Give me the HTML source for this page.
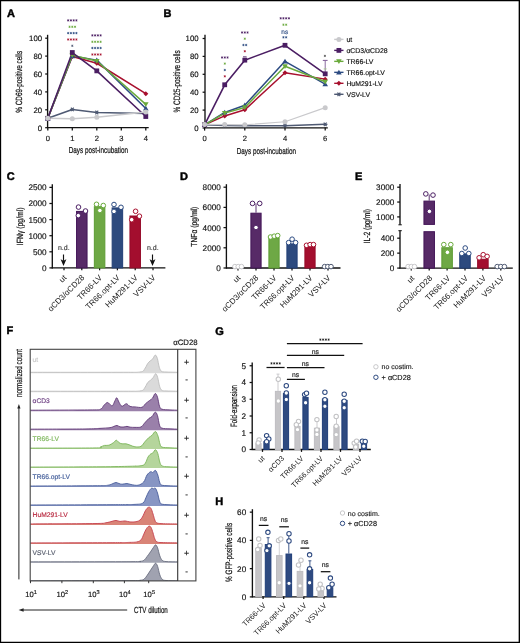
<!DOCTYPE html>
<html><head><meta charset="utf-8"><style>
html,body{margin:0;padding:0;background:#fff;width:520px;height:643px;overflow:hidden}
svg{display:block;will-change:transform}
text{font-family:"Liberation Sans",sans-serif;paint-order:stroke;text-rendering:geometricPrecision}
</style></head><body>
<svg width="520" height="643" viewBox="0 0 520 643">
<rect x="0" y="0" width="520" height="643" fill="#fff"/>
<path d="M0,0H520V643H0Z M1.15,1.15V641.85H518.65V1.15Z" fill="#000" fill-rule="evenodd"/>
<text x="7.00" y="16.50" font-size="11" font-weight="bold" fill="#000" stroke="#000" stroke-width="0.45">A</text>
<line x1="47.60" y1="34.80" x2="47.60" y2="128.10" stroke="#111" stroke-width="1.35"/>
<line x1="47.10" y1="127.60" x2="148.70" y2="127.60" stroke="#111" stroke-width="1.35"/>
<line x1="45.20" y1="127.70" x2="47.60" y2="127.70" stroke="#111" stroke-width="1.25"/>
<text x="42.10" y="130.50" font-size="7.8" text-anchor="end" fill="#111" stroke="#111" stroke-width="0.15" >0</text>
<line x1="45.20" y1="109.80" x2="47.60" y2="109.80" stroke="#111" stroke-width="1.25"/>
<text x="42.10" y="112.60" font-size="7.8" text-anchor="end" fill="#111" stroke="#111" stroke-width="0.15" >20</text>
<line x1="45.20" y1="91.90" x2="47.60" y2="91.90" stroke="#111" stroke-width="1.25"/>
<text x="42.10" y="94.70" font-size="7.8" text-anchor="end" fill="#111" stroke="#111" stroke-width="0.15" >40</text>
<line x1="45.20" y1="74.00" x2="47.60" y2="74.00" stroke="#111" stroke-width="1.25"/>
<text x="42.10" y="76.80" font-size="7.8" text-anchor="end" fill="#111" stroke="#111" stroke-width="0.15" >60</text>
<line x1="45.20" y1="56.10" x2="47.60" y2="56.10" stroke="#111" stroke-width="1.25"/>
<text x="42.10" y="58.90" font-size="7.8" text-anchor="end" fill="#111" stroke="#111" stroke-width="0.15" >80</text>
<line x1="45.20" y1="38.20" x2="47.60" y2="38.20" stroke="#111" stroke-width="1.25"/>
<text x="42.10" y="41.00" font-size="7.8" text-anchor="end" fill="#111" stroke="#111" stroke-width="0.15" >100</text>
<line x1="47.80" y1="127.60" x2="47.80" y2="130.60" stroke="#111" stroke-width="1.25"/>
<text x="47.80" y="140.70" font-size="7.6" text-anchor="middle" fill="#111" stroke="#111" stroke-width="0.15" >0</text>
<line x1="72.30" y1="127.60" x2="72.30" y2="130.60" stroke="#111" stroke-width="1.25"/>
<text x="72.30" y="140.70" font-size="7.6" text-anchor="middle" fill="#111" stroke="#111" stroke-width="0.15" >1</text>
<line x1="96.80" y1="127.60" x2="96.80" y2="130.60" stroke="#111" stroke-width="1.25"/>
<text x="96.80" y="140.70" font-size="7.6" text-anchor="middle" fill="#111" stroke="#111" stroke-width="0.15" >2</text>
<line x1="121.30" y1="127.60" x2="121.30" y2="130.60" stroke="#111" stroke-width="1.25"/>
<text x="121.30" y="140.70" font-size="7.6" text-anchor="middle" fill="#111" stroke="#111" stroke-width="0.15" >3</text>
<line x1="145.80" y1="127.60" x2="145.80" y2="130.60" stroke="#111" stroke-width="1.25"/>
<text x="145.80" y="140.70" font-size="7.6" text-anchor="middle" fill="#111" stroke="#111" stroke-width="0.15" >4</text>
<text x="0" y="0" font-size="9" text-anchor="middle" fill="#111" stroke="#111" stroke-width="0.22" textLength="61.9" lengthAdjust="spacingAndGlyphs" transform="translate(22.30,81.75) rotate(-90)">% CD69-positive cells</text>
<text x="98.40" y="153.10" font-size="8.7" text-anchor="middle" fill="#111" stroke="#111" stroke-width="0.22" textLength="59.4" lengthAdjust="spacingAndGlyphs">Days post-incubation</text>
<polyline points="47.80,118.30 72.30,109.44 96.80,112.48 145.80,113.38" fill="none" stroke="#4f5a73" stroke-width="1.5" stroke-linejoin="round"/>
<polyline points="47.80,118.30 72.30,56.55 96.80,63.26 145.80,93.69" fill="none" stroke="#a8102e" stroke-width="1.5" stroke-linejoin="round"/>
<polyline points="47.80,118.30 72.30,56.10 96.80,60.13 145.80,108.46" fill="none" stroke="#2c4b82" stroke-width="1.5" stroke-linejoin="round"/>
<polyline points="47.80,118.30 72.30,55.20 96.80,61.02 145.80,104.43" fill="none" stroke="#6aaa3c" stroke-width="1.5" stroke-linejoin="round"/>
<polyline points="47.80,118.30 72.30,52.52 96.80,70.87 145.80,116.51" fill="none" stroke="#4b1e63" stroke-width="1.6" stroke-linejoin="round"/>
<polyline points="47.80,118.30 72.30,118.75 96.80,117.23 145.80,112.04" fill="none" stroke="#c9c9cc" stroke-width="1.5" stroke-linejoin="round"/>
<g stroke="#4f5a73" stroke-width="1.1"><line x1="45.50" y1="118.30" x2="50.10" y2="118.30"/><line x1="46.42" y1="116.46" x2="49.18" y2="120.14"/><line x1="49.18" y1="116.46" x2="46.42" y2="120.14"/></g><circle cx="47.80" cy="118.30" r="1.3" fill="#4f5a73"/>
<g stroke="#4f5a73" stroke-width="1.1"><line x1="70.00" y1="109.44" x2="74.60" y2="109.44"/><line x1="70.92" y1="107.60" x2="73.68" y2="111.28"/><line x1="73.68" y1="107.60" x2="70.92" y2="111.28"/></g><circle cx="72.30" cy="109.44" r="1.3" fill="#4f5a73"/>
<g stroke="#4f5a73" stroke-width="1.1"><line x1="94.50" y1="112.48" x2="99.10" y2="112.48"/><line x1="95.42" y1="110.64" x2="98.18" y2="114.33"/><line x1="98.18" y1="110.64" x2="95.42" y2="114.33"/></g><circle cx="96.80" cy="112.48" r="1.3" fill="#4f5a73"/>
<g stroke="#4f5a73" stroke-width="1.1"><line x1="143.50" y1="113.38" x2="148.10" y2="113.38"/><line x1="144.42" y1="111.54" x2="147.18" y2="115.22"/><line x1="147.18" y1="111.54" x2="144.42" y2="115.22"/></g><circle cx="145.80" cy="113.38" r="1.3" fill="#4f5a73"/>
<path d="M47.80,115.80 L50.30,118.30 L47.80,120.80 L45.30,118.30 Z" fill="#a8102e"/>
<path d="M72.30,54.05 L74.80,56.55 L72.30,59.05 L69.80,56.55 Z" fill="#a8102e"/>
<path d="M96.80,60.76 L99.30,63.26 L96.80,65.76 L94.30,63.26 Z" fill="#a8102e"/>
<path d="M145.80,91.19 L148.30,93.69 L145.80,96.19 L143.30,93.69 Z" fill="#a8102e"/>
<path d="M45.00,120.40 L50.60,120.40 L47.80,115.64 Z" fill="#2c4b82"/>
<path d="M69.50,58.20 L75.10,58.20 L72.30,53.44 Z" fill="#2c4b82"/>
<path d="M94.00,62.23 L99.60,62.23 L96.80,57.47 Z" fill="#2c4b82"/>
<path d="M143.00,110.56 L148.60,110.56 L145.80,105.80 Z" fill="#2c4b82"/>
<path d="M45.00,116.20 L50.60,116.20 L47.80,120.96 Z" fill="#6aaa3c"/>
<path d="M69.50,53.10 L75.10,53.10 L72.30,57.86 Z" fill="#6aaa3c"/>
<path d="M94.00,58.92 L99.60,58.92 L96.80,63.68 Z" fill="#6aaa3c"/>
<path d="M143.00,102.33 L148.60,102.33 L145.80,107.09 Z" fill="#6aaa3c"/>
<rect x="45.40" y="115.90" width="4.80" height="4.80" fill="#4b1e63"/>
<rect x="69.90" y="50.12" width="4.80" height="4.80" fill="#4b1e63"/>
<rect x="94.40" y="68.47" width="4.80" height="4.80" fill="#4b1e63"/>
<rect x="143.40" y="114.11" width="4.80" height="4.80" fill="#4b1e63"/>
<circle cx="47.80" cy="118.30" r="2.50" fill="#c9c9cc"/>
<circle cx="72.30" cy="118.75" r="2.50" fill="#c9c9cc"/>
<circle cx="96.80" cy="117.23" r="2.50" fill="#c9c9cc"/>
<circle cx="145.80" cy="112.04" r="2.50" fill="#c9c9cc"/>
<circle cx="68.17" cy="20.40" r="0.55" fill="#4b1e63"/>
<circle cx="70.92" cy="20.40" r="0.55" fill="#4b1e63"/>
<circle cx="73.67" cy="20.40" r="0.55" fill="#4b1e63"/>
<circle cx="76.42" cy="20.40" r="0.55" fill="#4b1e63"/>
<path d="M68.17,19.60L68.17,21.20M67.48,20.00L68.87,20.80M68.87,20.00L67.48,20.80M70.92,19.60L70.92,21.20M70.23,20.00L71.62,20.80M71.62,20.00L70.23,20.80M73.67,19.60L73.67,21.20M72.98,20.00L74.37,20.80M74.37,20.00L72.98,20.80M76.42,19.60L76.42,21.20M75.73,20.00L77.12,20.80M77.12,20.00L75.73,20.80" stroke="#4b1e63" stroke-width="0.6" stroke-linecap="round" fill="none"/>
<circle cx="69.55" cy="26.80" r="0.55" fill="#6aaa3c"/>
<circle cx="72.30" cy="26.80" r="0.55" fill="#6aaa3c"/>
<circle cx="75.05" cy="26.80" r="0.55" fill="#6aaa3c"/>
<path d="M69.55,26.00L69.55,27.60M68.86,26.40L70.24,27.20M70.24,26.40L68.86,27.20M72.30,26.00L72.30,27.60M71.61,26.40L72.99,27.20M72.99,26.40L71.61,27.20M75.05,26.00L75.05,27.60M74.36,26.40L75.74,27.20M75.74,26.40L74.36,27.20" stroke="#6aaa3c" stroke-width="0.6" stroke-linecap="round" fill="none"/>
<circle cx="68.17" cy="33.10" r="0.55" fill="#2c4b82"/>
<circle cx="70.92" cy="33.10" r="0.55" fill="#2c4b82"/>
<circle cx="73.67" cy="33.10" r="0.55" fill="#2c4b82"/>
<circle cx="76.42" cy="33.10" r="0.55" fill="#2c4b82"/>
<path d="M68.17,32.30L68.17,33.90M67.48,32.70L68.87,33.50M68.87,32.70L67.48,33.50M70.92,32.30L70.92,33.90M70.23,32.70L71.62,33.50M71.62,32.70L70.23,33.50M73.67,32.30L73.67,33.90M72.98,32.70L74.37,33.50M74.37,32.70L72.98,33.50M76.42,32.30L76.42,33.90M75.73,32.70L77.12,33.50M77.12,32.70L75.73,33.50" stroke="#2c4b82" stroke-width="0.6" stroke-linecap="round" fill="none"/>
<circle cx="68.17" cy="39.50" r="0.55" fill="#a8102e"/>
<circle cx="70.92" cy="39.50" r="0.55" fill="#a8102e"/>
<circle cx="73.67" cy="39.50" r="0.55" fill="#a8102e"/>
<circle cx="76.42" cy="39.50" r="0.55" fill="#a8102e"/>
<path d="M68.17,38.70L68.17,40.30M67.48,39.10L68.87,39.90M68.87,39.10L67.48,39.90M70.92,38.70L70.92,40.30M70.23,39.10L71.62,39.90M71.62,39.10L70.23,39.90M73.67,38.70L73.67,40.30M72.98,39.10L74.37,39.90M74.37,39.10L72.98,39.90M76.42,38.70L76.42,40.30M75.73,39.10L77.12,39.90M77.12,39.10L75.73,39.90" stroke="#a8102e" stroke-width="0.6" stroke-linecap="round" fill="none"/>
<circle cx="72.30" cy="45.80" r="0.55" fill="#4f5a73"/>
<path d="M72.30,45.00L72.30,46.60M71.61,45.40L72.99,46.20M72.99,45.40L71.61,46.20" stroke="#4f5a73" stroke-width="0.6" stroke-linecap="round" fill="none"/>
<circle cx="92.38" cy="35.40" r="0.55" fill="#4b1e63"/>
<circle cx="95.12" cy="35.40" r="0.55" fill="#4b1e63"/>
<circle cx="97.88" cy="35.40" r="0.55" fill="#4b1e63"/>
<circle cx="100.62" cy="35.40" r="0.55" fill="#4b1e63"/>
<path d="M92.38,34.60L92.38,36.20M91.68,35.00L93.07,35.80M93.07,35.00L91.68,35.80M95.12,34.60L95.12,36.20M94.43,35.00L95.82,35.80M95.82,35.00L94.43,35.80M97.88,34.60L97.88,36.20M97.18,35.00L98.57,35.80M98.57,35.00L97.18,35.80M100.62,34.60L100.62,36.20M99.93,35.00L101.32,35.80M101.32,35.00L99.93,35.80" stroke="#4b1e63" stroke-width="0.6" stroke-linecap="round" fill="none"/>
<circle cx="92.38" cy="41.80" r="0.55" fill="#6aaa3c"/>
<circle cx="95.12" cy="41.80" r="0.55" fill="#6aaa3c"/>
<circle cx="97.88" cy="41.80" r="0.55" fill="#6aaa3c"/>
<circle cx="100.62" cy="41.80" r="0.55" fill="#6aaa3c"/>
<path d="M92.38,41.00L92.38,42.60M91.68,41.40L93.07,42.20M93.07,41.40L91.68,42.20M95.12,41.00L95.12,42.60M94.43,41.40L95.82,42.20M95.82,41.40L94.43,42.20M97.88,41.00L97.88,42.60M97.18,41.40L98.57,42.20M98.57,41.40L97.18,42.20M100.62,41.00L100.62,42.60M99.93,41.40L101.32,42.20M101.32,41.40L99.93,42.20" stroke="#6aaa3c" stroke-width="0.6" stroke-linecap="round" fill="none"/>
<circle cx="92.38" cy="48.00" r="0.55" fill="#2c4b82"/>
<circle cx="95.12" cy="48.00" r="0.55" fill="#2c4b82"/>
<circle cx="97.88" cy="48.00" r="0.55" fill="#2c4b82"/>
<circle cx="100.62" cy="48.00" r="0.55" fill="#2c4b82"/>
<path d="M92.38,47.20L92.38,48.80M91.68,47.60L93.07,48.40M93.07,47.60L91.68,48.40M95.12,47.20L95.12,48.80M94.43,47.60L95.82,48.40M95.82,47.60L94.43,48.40M97.88,47.20L97.88,48.80M97.18,47.60L98.57,48.40M98.57,47.60L97.18,48.40M100.62,47.20L100.62,48.80M99.93,47.60L101.32,48.40M101.32,47.60L99.93,48.40" stroke="#2c4b82" stroke-width="0.6" stroke-linecap="round" fill="none"/>
<circle cx="92.38" cy="54.50" r="0.55" fill="#a8102e"/>
<circle cx="95.12" cy="54.50" r="0.55" fill="#a8102e"/>
<circle cx="97.88" cy="54.50" r="0.55" fill="#a8102e"/>
<circle cx="100.62" cy="54.50" r="0.55" fill="#a8102e"/>
<path d="M92.38,53.70L92.38,55.30M91.68,54.10L93.07,54.90M93.07,54.10L91.68,54.90M95.12,53.70L95.12,55.30M94.43,54.10L95.82,54.90M95.82,54.10L94.43,54.90M97.88,53.70L97.88,55.30M97.18,54.10L98.57,54.90M98.57,54.10L97.18,54.90M100.62,53.70L100.62,55.30M99.93,54.10L101.32,54.90M101.32,54.10L99.93,54.90" stroke="#a8102e" stroke-width="0.6" stroke-linecap="round" fill="none"/>
<text x="163.60" y="16.50" font-size="11" font-weight="bold" fill="#000" stroke="#000" stroke-width="0.45">B</text>
<line x1="205.00" y1="34.80" x2="205.00" y2="128.10" stroke="#111" stroke-width="1.35"/>
<line x1="204.50" y1="127.80" x2="327.80" y2="127.80" stroke="#111" stroke-width="1.35"/>
<line x1="202.60" y1="128.00" x2="205.00" y2="128.00" stroke="#111" stroke-width="1.25"/>
<text x="198.60" y="130.80" font-size="7.8" text-anchor="end" fill="#111" stroke="#111" stroke-width="0.15" >0</text>
<line x1="202.60" y1="110.10" x2="205.00" y2="110.10" stroke="#111" stroke-width="1.25"/>
<text x="198.60" y="112.90" font-size="7.8" text-anchor="end" fill="#111" stroke="#111" stroke-width="0.15" >20</text>
<line x1="202.60" y1="92.20" x2="205.00" y2="92.20" stroke="#111" stroke-width="1.25"/>
<text x="198.60" y="95.00" font-size="7.8" text-anchor="end" fill="#111" stroke="#111" stroke-width="0.15" >40</text>
<line x1="202.60" y1="74.30" x2="205.00" y2="74.30" stroke="#111" stroke-width="1.25"/>
<text x="198.60" y="77.10" font-size="7.8" text-anchor="end" fill="#111" stroke="#111" stroke-width="0.15" >60</text>
<line x1="202.60" y1="56.40" x2="205.00" y2="56.40" stroke="#111" stroke-width="1.25"/>
<text x="198.60" y="59.20" font-size="7.8" text-anchor="end" fill="#111" stroke="#111" stroke-width="0.15" >80</text>
<line x1="202.60" y1="38.50" x2="205.00" y2="38.50" stroke="#111" stroke-width="1.25"/>
<text x="198.60" y="41.30" font-size="7.8" text-anchor="end" fill="#111" stroke="#111" stroke-width="0.15" >100</text>
<line x1="204.60" y1="127.60" x2="204.60" y2="130.60" stroke="#111" stroke-width="1.25"/>
<text x="204.60" y="140.70" font-size="7.6" text-anchor="middle" fill="#111" stroke="#111" stroke-width="0.15" >0</text>
<line x1="244.80" y1="127.60" x2="244.80" y2="130.60" stroke="#111" stroke-width="1.25"/>
<text x="244.80" y="140.70" font-size="7.6" text-anchor="middle" fill="#111" stroke="#111" stroke-width="0.15" >2</text>
<line x1="285.00" y1="127.60" x2="285.00" y2="130.60" stroke="#111" stroke-width="1.25"/>
<text x="285.00" y="140.70" font-size="7.6" text-anchor="middle" fill="#111" stroke="#111" stroke-width="0.15" >4</text>
<line x1="325.20" y1="127.60" x2="325.20" y2="130.60" stroke="#111" stroke-width="1.25"/>
<text x="325.20" y="140.70" font-size="7.6" text-anchor="middle" fill="#111" stroke="#111" stroke-width="0.15" >6</text>
<text x="0" y="0" font-size="9.2" text-anchor="middle" fill="#111" stroke="#111" stroke-width="0.22" textLength="62.1" lengthAdjust="spacingAndGlyphs" transform="translate(179.60,81.35) rotate(-90)">% CD25-positive cells</text>
<text x="266.40" y="153.60" font-size="8.7" text-anchor="middle" fill="#111" stroke="#111" stroke-width="0.22" textLength="59.4" lengthAdjust="spacingAndGlyphs">Days post-incubation</text>
<line x1="325.20" y1="73.85" x2="325.20" y2="60.43" stroke="#8a6aa0" stroke-width="1.0"/>
<line x1="322.80" y1="60.43" x2="327.60" y2="60.43" stroke="#8a6aa0" stroke-width="1.1"/>
<line x1="323.70" y1="68.93" x2="326.70" y2="68.93" stroke="#9cc77e" stroke-width="0.8"/>
<line x1="243.00" y1="56.85" x2="246.60" y2="56.85" stroke="#4b1e63" stroke-width="0.9"/>
<polyline points="204.60,124.78 224.70,125.49 244.80,125.67 285.00,125.67 325.20,124.33" fill="none" stroke="#4f5a73" stroke-width="1.5" stroke-linejoin="round"/>
<polyline points="204.60,124.78 224.70,115.92 244.80,109.83 285.00,72.78 325.20,79.13" fill="none" stroke="#a8102e" stroke-width="1.5" stroke-linejoin="round"/>
<polyline points="204.60,124.78 224.70,112.43 244.80,105.18 285.00,61.32 325.20,84.14" fill="none" stroke="#2c4b82" stroke-width="1.5" stroke-linejoin="round"/>
<polyline points="204.60,124.78 224.70,113.14 244.80,107.41 285.00,66.25 325.20,81.73" fill="none" stroke="#6aaa3c" stroke-width="1.5" stroke-linejoin="round"/>
<polyline points="204.60,124.78 224.70,84.77 244.80,60.16 285.00,45.30 325.20,73.85" fill="none" stroke="#4b1e63" stroke-width="1.6" stroke-linejoin="round"/>
<polyline points="204.60,124.42 224.70,124.60 244.80,124.87 285.00,121.73 325.20,107.68" fill="none" stroke="#c9c9cc" stroke-width="1.2" stroke-linejoin="round"/>
<g stroke="#4f5a73" stroke-width="1.1"><line x1="202.30" y1="124.78" x2="206.90" y2="124.78"/><line x1="203.22" y1="122.94" x2="205.98" y2="126.62"/><line x1="205.98" y1="122.94" x2="203.22" y2="126.62"/></g><circle cx="204.60" cy="124.78" r="1.3" fill="#4f5a73"/>
<g stroke="#4f5a73" stroke-width="1.1"><line x1="222.40" y1="125.49" x2="227.00" y2="125.49"/><line x1="223.32" y1="123.65" x2="226.08" y2="127.33"/><line x1="226.08" y1="123.65" x2="223.32" y2="127.33"/></g><circle cx="224.70" cy="125.49" r="1.3" fill="#4f5a73"/>
<g stroke="#4f5a73" stroke-width="1.1"><line x1="242.50" y1="125.67" x2="247.10" y2="125.67"/><line x1="243.42" y1="123.83" x2="246.18" y2="127.51"/><line x1="246.18" y1="123.83" x2="243.42" y2="127.51"/></g><circle cx="244.80" cy="125.67" r="1.3" fill="#4f5a73"/>
<g stroke="#4f5a73" stroke-width="1.1"><line x1="282.70" y1="125.67" x2="287.30" y2="125.67"/><line x1="283.62" y1="123.83" x2="286.38" y2="127.51"/><line x1="286.38" y1="123.83" x2="283.62" y2="127.51"/></g><circle cx="285.00" cy="125.67" r="1.3" fill="#4f5a73"/>
<g stroke="#4f5a73" stroke-width="1.1"><line x1="322.90" y1="124.33" x2="327.50" y2="124.33"/><line x1="323.82" y1="122.49" x2="326.58" y2="126.17"/><line x1="326.58" y1="122.49" x2="323.82" y2="126.17"/></g><circle cx="325.20" cy="124.33" r="1.3" fill="#4f5a73"/>
<path d="M204.60,122.28 L207.10,124.78 L204.60,127.28 L202.10,124.78 Z" fill="#a8102e"/>
<path d="M224.70,113.42 L227.20,115.92 L224.70,118.42 L222.20,115.92 Z" fill="#a8102e"/>
<path d="M244.80,107.33 L247.30,109.83 L244.80,112.33 L242.30,109.83 Z" fill="#a8102e"/>
<path d="M285.00,70.28 L287.50,72.78 L285.00,75.28 L282.50,72.78 Z" fill="#a8102e"/>
<path d="M325.20,76.63 L327.70,79.13 L325.20,81.63 L322.70,79.13 Z" fill="#a8102e"/>
<path d="M201.80,126.88 L207.40,126.88 L204.60,122.12 Z" fill="#2c4b82"/>
<path d="M221.90,114.53 L227.50,114.53 L224.70,109.77 Z" fill="#2c4b82"/>
<path d="M242.00,107.28 L247.60,107.28 L244.80,102.52 Z" fill="#2c4b82"/>
<path d="M282.20,63.42 L287.80,63.42 L285.00,58.66 Z" fill="#2c4b82"/>
<path d="M322.40,86.24 L328.00,86.24 L325.20,81.48 Z" fill="#2c4b82"/>
<path d="M201.80,122.68 L207.40,122.68 L204.60,127.44 Z" fill="#6aaa3c"/>
<path d="M221.90,111.04 L227.50,111.04 L224.70,115.80 Z" fill="#6aaa3c"/>
<path d="M242.00,105.31 L247.60,105.31 L244.80,110.07 Z" fill="#6aaa3c"/>
<path d="M282.20,64.15 L287.80,64.15 L285.00,68.91 Z" fill="#6aaa3c"/>
<path d="M322.40,79.63 L328.00,79.63 L325.20,84.39 Z" fill="#6aaa3c"/>
<rect x="202.20" y="122.38" width="4.80" height="4.80" fill="#4b1e63"/>
<rect x="222.30" y="82.37" width="4.80" height="4.80" fill="#4b1e63"/>
<rect x="242.40" y="57.76" width="4.80" height="4.80" fill="#4b1e63"/>
<rect x="282.60" y="42.90" width="4.80" height="4.80" fill="#4b1e63"/>
<rect x="322.80" y="71.45" width="4.80" height="4.80" fill="#4b1e63"/>
<circle cx="204.60" cy="124.42" r="2.50" fill="#c9c9cc"/>
<circle cx="224.70" cy="124.60" r="2.50" fill="#c9c9cc"/>
<circle cx="244.80" cy="124.87" r="2.50" fill="#c9c9cc"/>
<circle cx="285.00" cy="121.73" r="2.50" fill="#c9c9cc"/>
<circle cx="325.20" cy="107.68" r="2.50" fill="#c9c9cc"/>
<circle cx="222.05" cy="57.50" r="0.55" fill="#4b1e63"/>
<circle cx="224.80" cy="57.50" r="0.55" fill="#4b1e63"/>
<circle cx="227.55" cy="57.50" r="0.55" fill="#4b1e63"/>
<path d="M222.05,56.70L222.05,58.30M221.36,57.10L222.74,57.90M222.74,57.10L221.36,57.90M224.80,56.70L224.80,58.30M224.11,57.10L225.49,57.90M225.49,57.10L224.11,57.90M227.55,56.70L227.55,58.30M226.86,57.10L228.24,57.90M228.24,57.10L226.86,57.90" stroke="#4b1e63" stroke-width="0.6" stroke-linecap="round" fill="none"/>
<circle cx="224.80" cy="63.60" r="0.55" fill="#6aaa3c"/>
<path d="M224.80,62.80L224.80,64.40M224.11,63.20L225.49,64.00M225.49,63.20L224.11,64.00" stroke="#6aaa3c" stroke-width="0.6" stroke-linecap="round" fill="none"/>
<circle cx="224.80" cy="70.00" r="0.55" fill="#2c4b82"/>
<path d="M224.80,69.20L224.80,70.80M224.11,69.60L225.49,70.40M225.49,69.60L224.11,70.40" stroke="#2c4b82" stroke-width="0.6" stroke-linecap="round" fill="none"/>
<circle cx="224.80" cy="76.30" r="0.55" fill="#a8102e"/>
<path d="M224.80,75.50L224.80,77.10M224.11,75.90L225.49,76.70M225.49,75.90L224.11,76.70" stroke="#a8102e" stroke-width="0.6" stroke-linecap="round" fill="none"/>
<circle cx="242.05" cy="32.50" r="0.55" fill="#4b1e63"/>
<circle cx="244.80" cy="32.50" r="0.55" fill="#4b1e63"/>
<circle cx="247.55" cy="32.50" r="0.55" fill="#4b1e63"/>
<path d="M242.05,31.70L242.05,33.30M241.36,32.10L242.74,32.90M242.74,32.10L241.36,32.90M244.80,31.70L244.80,33.30M244.11,32.10L245.49,32.90M245.49,32.10L244.11,32.90M247.55,31.70L247.55,33.30M246.86,32.10L248.24,32.90M248.24,32.10L246.86,32.90" stroke="#4b1e63" stroke-width="0.6" stroke-linecap="round" fill="none"/>
<circle cx="244.80" cy="38.70" r="0.55" fill="#6aaa3c"/>
<path d="M244.80,37.90L244.80,39.50M244.11,38.30L245.49,39.10M245.49,38.30L244.11,39.10" stroke="#6aaa3c" stroke-width="0.6" stroke-linecap="round" fill="none"/>
<circle cx="243.43" cy="45.00" r="0.55" fill="#2c4b82"/>
<circle cx="246.18" cy="45.00" r="0.55" fill="#2c4b82"/>
<path d="M243.43,44.20L243.43,45.80M242.73,44.60L244.12,45.40M244.12,44.60L242.73,45.40M246.18,44.20L246.18,45.80M245.48,44.60L246.87,45.40M246.87,44.60L245.48,45.40" stroke="#2c4b82" stroke-width="0.6" stroke-linecap="round" fill="none"/>
<circle cx="244.80" cy="51.20" r="0.55" fill="#a8102e"/>
<path d="M244.80,50.40L244.80,52.00M244.11,50.80L245.49,51.60M245.49,50.80L244.11,51.60" stroke="#a8102e" stroke-width="0.6" stroke-linecap="round" fill="none"/>
<circle cx="280.68" cy="18.30" r="0.55" fill="#4b1e63"/>
<circle cx="283.43" cy="18.30" r="0.55" fill="#4b1e63"/>
<circle cx="286.18" cy="18.30" r="0.55" fill="#4b1e63"/>
<circle cx="288.93" cy="18.30" r="0.55" fill="#4b1e63"/>
<path d="M280.68,17.50L280.68,19.10M279.98,17.90L281.37,18.70M281.37,17.90L279.98,18.70M283.43,17.50L283.43,19.10M282.73,17.90L284.12,18.70M284.12,17.90L282.73,18.70M286.18,17.50L286.18,19.10M285.48,17.90L286.87,18.70M286.87,17.90L285.48,18.70M288.93,17.50L288.93,19.10M288.23,17.90L289.62,18.70M289.62,17.90L288.23,18.70" stroke="#4b1e63" stroke-width="0.6" stroke-linecap="round" fill="none"/>
<circle cx="283.43" cy="24.70" r="0.55" fill="#6aaa3c"/>
<circle cx="286.18" cy="24.70" r="0.55" fill="#6aaa3c"/>
<path d="M283.43,23.90L283.43,25.50M282.73,24.30L284.12,25.10M284.12,24.30L282.73,25.10M286.18,23.90L286.18,25.50M285.48,24.30L286.87,25.10M286.87,24.30L285.48,25.10" stroke="#6aaa3c" stroke-width="0.6" stroke-linecap="round" fill="none"/>
<text x="284.80" y="33.60" font-size="6.5" text-anchor="middle" fill="#2c4b82" stroke="#2c4b82" stroke-width="0.15" >ns</text>
<circle cx="283.43" cy="37.30" r="0.55" fill="#2c4b82"/>
<circle cx="286.18" cy="37.30" r="0.55" fill="#2c4b82"/>
<path d="M283.43,36.50L283.43,38.10M282.73,36.90L284.12,37.70M284.12,36.90L282.73,37.70M286.18,36.50L286.18,38.10M285.48,36.90L286.87,37.70M286.87,36.90L285.48,37.70" stroke="#2c4b82" stroke-width="0.6" stroke-linecap="round" fill="none"/>
<circle cx="324.90" cy="55.90" r="0.55" fill="#555"/>
<path d="M324.90,55.10L324.90,56.70M324.21,55.50L325.59,56.30M325.59,55.50L324.21,56.30" stroke="#555" stroke-width="0.6" stroke-linecap="round" fill="none"/>
<line x1="334.20" y1="39.40" x2="343.50" y2="39.40" stroke="#c9c9cc" stroke-width="1.4"/>
<circle cx="338.90" cy="39.40" r="2.50" fill="#c9c9cc"/>
<text x="346.40" y="41.90" font-size="6.9" text-anchor="start" fill="#111" stroke="#111" stroke-width="0.15" >ut</text>
<line x1="334.20" y1="50.38" x2="343.50" y2="50.38" stroke="#4b1e63" stroke-width="1.4"/>
<rect x="336.50" y="47.98" width="4.80" height="4.80" fill="#4b1e63"/>
<text x="346.40" y="52.88" font-size="6.9" text-anchor="start" fill="#111" stroke="#111" stroke-width="0.15" >αCD3/αCD28</text>
<line x1="334.20" y1="61.36" x2="343.50" y2="61.36" stroke="#6aaa3c" stroke-width="1.4"/>
<path d="M336.10,59.26 L341.70,59.26 L338.90,64.02 Z" fill="#6aaa3c"/>
<text x="346.40" y="63.86" font-size="6.9" text-anchor="start" fill="#111" stroke="#111" stroke-width="0.15" >TR66-LV</text>
<line x1="334.20" y1="72.34" x2="343.50" y2="72.34" stroke="#2c4b82" stroke-width="1.4"/>
<path d="M336.10,74.44 L341.70,74.44 L338.90,69.68 Z" fill="#2c4b82"/>
<text x="346.40" y="74.84" font-size="6.9" text-anchor="start" fill="#111" stroke="#111" stroke-width="0.15" >TR66.opt-LV</text>
<line x1="334.20" y1="83.32" x2="343.50" y2="83.32" stroke="#a8102e" stroke-width="1.4"/>
<path d="M338.90,80.82 L341.40,83.32 L338.90,85.82 L336.40,83.32 Z" fill="#a8102e"/>
<text x="346.40" y="85.82" font-size="6.9" text-anchor="start" fill="#111" stroke="#111" stroke-width="0.15" >HuM291-LV</text>
<line x1="334.20" y1="94.30" x2="343.50" y2="94.30" stroke="#4f5a73" stroke-width="1.4"/>
<g stroke="#4f5a73" stroke-width="1.1"><line x1="336.60" y1="94.30" x2="341.20" y2="94.30"/><line x1="337.52" y1="92.46" x2="340.28" y2="96.14"/><line x1="340.28" y1="92.46" x2="337.52" y2="96.14"/></g><circle cx="338.90" cy="94.30" r="1.3" fill="#4f5a73"/>
<text x="346.40" y="96.80" font-size="6.9" text-anchor="start" fill="#111" stroke="#111" stroke-width="0.15" >VSV-LV</text>
<text x="6.70" y="180.30" font-size="11" font-weight="bold" fill="#000" stroke="#000" stroke-width="0.45">C</text>
<line x1="52.30" y1="184.20" x2="52.30" y2="268.40" stroke="#111" stroke-width="1.35"/>
<line x1="51.80" y1="267.90" x2="165.40" y2="267.90" stroke="#111" stroke-width="1.35"/>
<line x1="49.40" y1="267.90" x2="52.30" y2="267.90" stroke="#111" stroke-width="1.25"/>
<text x="46.60" y="270.85" font-size="8.2" text-anchor="end" fill="#111" stroke="#111" stroke-width="0.15" >0</text>
<line x1="49.40" y1="251.80" x2="52.30" y2="251.80" stroke="#111" stroke-width="1.25"/>
<text x="46.60" y="254.75" font-size="8.2" text-anchor="end" fill="#111" stroke="#111" stroke-width="0.15" >500</text>
<line x1="49.40" y1="235.70" x2="52.30" y2="235.70" stroke="#111" stroke-width="1.25"/>
<text x="46.60" y="238.65" font-size="8.2" text-anchor="end" fill="#111" stroke="#111" stroke-width="0.15" >1000</text>
<line x1="49.40" y1="219.60" x2="52.30" y2="219.60" stroke="#111" stroke-width="1.25"/>
<text x="46.60" y="222.55" font-size="8.2" text-anchor="end" fill="#111" stroke="#111" stroke-width="0.15" >1500</text>
<line x1="49.40" y1="203.50" x2="52.30" y2="203.50" stroke="#111" stroke-width="1.25"/>
<text x="46.60" y="206.45" font-size="8.2" text-anchor="end" fill="#111" stroke="#111" stroke-width="0.15" >2000</text>
<line x1="49.40" y1="187.40" x2="52.30" y2="187.40" stroke="#111" stroke-width="1.25"/>
<text x="46.60" y="190.35" font-size="8.2" text-anchor="end" fill="#111" stroke="#111" stroke-width="0.15" >2500</text>
<line x1="64.00" y1="267.90" x2="64.00" y2="270.30" stroke="#111" stroke-width="1.25"/>
<line x1="81.80" y1="267.90" x2="81.80" y2="270.30" stroke="#111" stroke-width="1.25"/>
<line x1="99.60" y1="267.90" x2="99.60" y2="270.30" stroke="#111" stroke-width="1.25"/>
<line x1="117.40" y1="267.90" x2="117.40" y2="270.30" stroke="#111" stroke-width="1.25"/>
<line x1="135.20" y1="267.90" x2="135.20" y2="270.30" stroke="#111" stroke-width="1.25"/>
<line x1="153.00" y1="267.90" x2="153.00" y2="270.30" stroke="#111" stroke-width="1.25"/>
<text x="0" y="0" font-size="9" text-anchor="middle" fill="#111" stroke="#111" stroke-width="0.22" textLength="37.7" lengthAdjust="spacingAndGlyphs" transform="translate(22.80,226.30) rotate(-90)">IFNγ (pg/ml)</text>
<rect x="76.55" y="211.41" width="10.50" height="56.49" fill="#572a67" stroke="#431458" stroke-width="1.0"/>
<rect x="94.35" y="206.70" width="10.50" height="61.20" fill="#6ea845" stroke="#5c9c33" stroke-width="1.0"/>
<rect x="112.15" y="207.90" width="10.50" height="60.00" fill="#2d4a7e" stroke="#223f76" stroke-width="1.0"/>
<rect x="129.95" y="216.01" width="10.50" height="51.89" fill="#a30e2e" stroke="#960a28" stroke-width="1.0"/>
<circle cx="78.50" cy="207.10" r="2.30" fill="#fff" stroke="#4b1e63" stroke-width="1.0"/>
<circle cx="85.50" cy="211.00" r="2.30" fill="#fff" stroke="#4b1e63" stroke-width="1.0"/>
<circle cx="78.30" cy="215.60" r="2.30" fill="#fff" stroke="#4b1e63" stroke-width="1.0"/>
<circle cx="96.50" cy="204.30" r="2.30" fill="#fff" stroke="#6aaa3c" stroke-width="1.0"/>
<circle cx="103.30" cy="205.50" r="2.30" fill="#fff" stroke="#6aaa3c" stroke-width="1.0"/>
<circle cx="99.90" cy="210.50" r="2.30" fill="#fff" stroke="#6aaa3c" stroke-width="1.0"/>
<circle cx="114.00" cy="204.50" r="2.30" fill="#fff" stroke="#2c4b82" stroke-width="1.0"/>
<circle cx="121.00" cy="207.30" r="2.30" fill="#fff" stroke="#2c4b82" stroke-width="1.0"/>
<circle cx="114.00" cy="211.40" r="2.30" fill="#fff" stroke="#2c4b82" stroke-width="1.0"/>
<circle cx="135.60" cy="211.30" r="2.30" fill="#fff" stroke="#a8102e" stroke-width="1.0"/>
<circle cx="139.40" cy="216.20" r="2.30" fill="#fff" stroke="#a8102e" stroke-width="1.0"/>
<circle cx="131.70" cy="219.70" r="2.30" fill="#fff" stroke="#a8102e" stroke-width="1.0"/>
<text x="63.80" y="249.80" font-size="7" text-anchor="middle" fill="#333" stroke="#333" stroke-width="0.15" >n.d.</text>
<line x1="63.50" y1="254.50" x2="63.50" y2="260.90" stroke="#111" stroke-width="1.15"/>
<path d="M60.60,259.30 L63.50,260.70 L66.40,259.30 L63.50,265.90 Z" fill="#111"/>
<text x="152.80" y="249.80" font-size="7" text-anchor="middle" fill="#333" stroke="#333" stroke-width="0.15" >n.d.</text>
<line x1="152.50" y1="254.50" x2="152.50" y2="260.90" stroke="#111" stroke-width="1.15"/>
<path d="M149.60,259.30 L152.50,260.70 L155.40,259.30 L152.50,265.90 Z" fill="#111"/>
<text x="0" y="0" font-size="8" text-anchor="end" fill="#222" transform="translate(67.00,278.20) rotate(-45)">ut</text>
<text x="0" y="0" font-size="8" text-anchor="end" fill="#222" transform="translate(84.80,278.20) rotate(-45)">αCD3/αCD28</text>
<text x="0" y="0" font-size="8" text-anchor="end" fill="#222" transform="translate(102.60,278.20) rotate(-45)">TR66-LV</text>
<text x="0" y="0" font-size="8" text-anchor="end" fill="#222" transform="translate(120.40,278.20) rotate(-45)">TR66.opt-LV</text>
<text x="0" y="0" font-size="8" text-anchor="end" fill="#222" transform="translate(138.20,278.20) rotate(-45)">HuM291-LV</text>
<text x="0" y="0" font-size="8" text-anchor="end" fill="#222" transform="translate(156.00,278.20) rotate(-45)">VSV-LV</text>
<text x="180.10" y="180.30" font-size="11" font-weight="bold" fill="#000" stroke="#000" stroke-width="0.45">D</text>
<line x1="226.40" y1="184.20" x2="226.40" y2="268.50" stroke="#111" stroke-width="1.35"/>
<line x1="225.90" y1="268.00" x2="340.50" y2="268.00" stroke="#111" stroke-width="1.35"/>
<line x1="223.50" y1="268.00" x2="226.40" y2="268.00" stroke="#111" stroke-width="1.25"/>
<text x="220.80" y="270.95" font-size="8.2" text-anchor="end" fill="#111" stroke="#111" stroke-width="0.15" >0</text>
<line x1="223.50" y1="247.80" x2="226.40" y2="247.80" stroke="#111" stroke-width="1.25"/>
<text x="220.80" y="250.75" font-size="8.2" text-anchor="end" fill="#111" stroke="#111" stroke-width="0.15" >2000</text>
<line x1="223.50" y1="227.60" x2="226.40" y2="227.60" stroke="#111" stroke-width="1.25"/>
<text x="220.80" y="230.55" font-size="8.2" text-anchor="end" fill="#111" stroke="#111" stroke-width="0.15" >4000</text>
<line x1="223.50" y1="207.40" x2="226.40" y2="207.40" stroke="#111" stroke-width="1.25"/>
<text x="220.80" y="210.35" font-size="8.2" text-anchor="end" fill="#111" stroke="#111" stroke-width="0.15" >6000</text>
<line x1="223.50" y1="187.20" x2="226.40" y2="187.20" stroke="#111" stroke-width="1.25"/>
<text x="220.80" y="190.15" font-size="8.2" text-anchor="end" fill="#111" stroke="#111" stroke-width="0.15" >8000</text>
<line x1="238.00" y1="268.00" x2="238.00" y2="270.40" stroke="#111" stroke-width="1.25"/>
<line x1="256.00" y1="268.00" x2="256.00" y2="270.40" stroke="#111" stroke-width="1.25"/>
<line x1="274.00" y1="268.00" x2="274.00" y2="270.40" stroke="#111" stroke-width="1.25"/>
<line x1="292.00" y1="268.00" x2="292.00" y2="270.40" stroke="#111" stroke-width="1.25"/>
<line x1="310.00" y1="268.00" x2="310.00" y2="270.40" stroke="#111" stroke-width="1.25"/>
<line x1="328.00" y1="268.00" x2="328.00" y2="270.40" stroke="#111" stroke-width="1.25"/>
<text x="0" y="0" font-size="8.7" text-anchor="middle" fill="#111" stroke="#111" stroke-width="0.22" textLength="40" lengthAdjust="spacingAndGlyphs" transform="translate(196.80,226.65) rotate(-90)">TNFα (pg/ml)</text>
<rect x="250.90" y="213.20" width="10.20" height="54.80" fill="#572a67" stroke="#431458" stroke-width="1.0"/>
<rect x="268.90" y="237.90" width="10.20" height="30.10" fill="#6ea845" stroke="#5c9c33" stroke-width="1.0"/>
<rect x="286.90" y="243.90" width="10.20" height="24.10" fill="#2d4a7e" stroke="#223f76" stroke-width="1.0"/>
<rect x="304.90" y="246.38" width="10.20" height="21.62" fill="#a30e2e" stroke="#960a28" stroke-width="1.0"/>
<line x1="256.00" y1="212.70" x2="256.00" y2="203.40" stroke="#4b1e63" stroke-width="0.9"/>
<circle cx="234.90" cy="266.60" r="2.30" fill="#fff" stroke="#c9c9cc" stroke-width="1.0"/>
<circle cx="238.20" cy="266.60" r="2.30" fill="#fff" stroke="#c9c9cc" stroke-width="1.0"/>
<circle cx="241.50" cy="266.60" r="2.30" fill="#fff" stroke="#c9c9cc" stroke-width="1.0"/>
<circle cx="252.50" cy="203.40" r="2.30" fill="#fff" stroke="#4b1e63" stroke-width="1.0"/>
<circle cx="259.70" cy="203.40" r="2.30" fill="#fff" stroke="#4b1e63" stroke-width="1.0"/>
<circle cx="256.00" cy="227.50" r="2.30" fill="#fff" stroke="#4b1e63" stroke-width="1.0"/>
<circle cx="270.50" cy="237.00" r="2.30" fill="#fff" stroke="#6aaa3c" stroke-width="1.0"/>
<circle cx="274.20" cy="236.20" r="2.30" fill="#fff" stroke="#6aaa3c" stroke-width="1.0"/>
<circle cx="277.70" cy="235.60" r="2.30" fill="#fff" stroke="#6aaa3c" stroke-width="1.0"/>
<circle cx="292.10" cy="239.20" r="2.30" fill="#fff" stroke="#2c4b82" stroke-width="1.0"/>
<circle cx="288.60" cy="242.60" r="2.30" fill="#fff" stroke="#2c4b82" stroke-width="1.0"/>
<circle cx="295.60" cy="242.60" r="2.30" fill="#fff" stroke="#2c4b82" stroke-width="1.0"/>
<circle cx="306.50" cy="245.30" r="2.30" fill="#fff" stroke="#a8102e" stroke-width="1.0"/>
<circle cx="310.10" cy="244.60" r="2.30" fill="#fff" stroke="#a8102e" stroke-width="1.0"/>
<circle cx="313.50" cy="244.60" r="2.30" fill="#fff" stroke="#a8102e" stroke-width="1.0"/>
<circle cx="324.60" cy="266.60" r="2.30" fill="#fff" stroke="#4f5a73" stroke-width="1.0"/>
<circle cx="327.80" cy="266.60" r="2.30" fill="#fff" stroke="#4f5a73" stroke-width="1.0"/>
<circle cx="331.00" cy="266.60" r="2.30" fill="#fff" stroke="#4f5a73" stroke-width="1.0"/>
<text x="0" y="0" font-size="8" text-anchor="end" fill="#222" transform="translate(241.00,278.40) rotate(-45)">ut</text>
<text x="0" y="0" font-size="8" text-anchor="end" fill="#222" transform="translate(259.00,278.40) rotate(-45)">αCD3/αCD28</text>
<text x="0" y="0" font-size="8" text-anchor="end" fill="#222" transform="translate(277.00,278.40) rotate(-45)">TR66-LV</text>
<text x="0" y="0" font-size="8" text-anchor="end" fill="#222" transform="translate(295.00,278.40) rotate(-45)">TR66.opt-LV</text>
<text x="0" y="0" font-size="8" text-anchor="end" fill="#222" transform="translate(313.00,278.40) rotate(-45)">HuM291-LV</text>
<text x="0" y="0" font-size="8" text-anchor="end" fill="#222" transform="translate(331.00,278.40) rotate(-45)">VSV-LV</text>
<text x="354.90" y="180.30" font-size="11" font-weight="bold" fill="#000" stroke="#000" stroke-width="0.45">E</text>
<line x1="400.00" y1="184.00" x2="400.00" y2="224.80" stroke="#111" stroke-width="1.35"/>
<line x1="398.40" y1="224.80" x2="401.80" y2="224.80" stroke="#111" stroke-width="1.0"/>
<line x1="400.00" y1="230.70" x2="400.00" y2="268.60" stroke="#111" stroke-width="1.35"/>
<line x1="398.40" y1="230.70" x2="401.80" y2="230.70" stroke="#111" stroke-width="1.0"/>
<line x1="399.50" y1="268.10" x2="512.80" y2="268.10" stroke="#111" stroke-width="1.35"/>
<line x1="397.20" y1="216.90" x2="400.00" y2="216.90" stroke="#111" stroke-width="1.25"/>
<text x="394.30" y="219.85" font-size="8.2" text-anchor="end" fill="#111" stroke="#111" stroke-width="0.15" >1000</text>
<line x1="397.20" y1="202.05" x2="400.00" y2="202.05" stroke="#111" stroke-width="1.25"/>
<text x="394.30" y="205.00" font-size="8.2" text-anchor="end" fill="#111" stroke="#111" stroke-width="0.15" >2000</text>
<line x1="397.20" y1="187.20" x2="400.00" y2="187.20" stroke="#111" stroke-width="1.25"/>
<text x="394.30" y="190.15" font-size="8.2" text-anchor="end" fill="#111" stroke="#111" stroke-width="0.15" >3000</text>
<line x1="397.20" y1="268.10" x2="400.00" y2="268.10" stroke="#111" stroke-width="1.25"/>
<text x="394.30" y="271.05" font-size="8.2" text-anchor="end" fill="#111" stroke="#111" stroke-width="0.15" >0</text>
<line x1="397.20" y1="253.14" x2="400.00" y2="253.14" stroke="#111" stroke-width="1.25"/>
<text x="394.30" y="256.09" font-size="8.2" text-anchor="end" fill="#111" stroke="#111" stroke-width="0.15" >200</text>
<line x1="397.20" y1="238.18" x2="400.00" y2="238.18" stroke="#111" stroke-width="1.25"/>
<text x="394.30" y="241.13" font-size="8.2" text-anchor="end" fill="#111" stroke="#111" stroke-width="0.15" >400</text>
<line x1="411.30" y1="268.10" x2="411.30" y2="270.50" stroke="#111" stroke-width="1.25"/>
<line x1="429.20" y1="268.10" x2="429.20" y2="270.50" stroke="#111" stroke-width="1.25"/>
<line x1="447.10" y1="268.10" x2="447.10" y2="270.50" stroke="#111" stroke-width="1.25"/>
<line x1="465.00" y1="268.10" x2="465.00" y2="270.50" stroke="#111" stroke-width="1.25"/>
<line x1="482.90" y1="268.10" x2="482.90" y2="270.50" stroke="#111" stroke-width="1.25"/>
<line x1="500.80" y1="268.10" x2="500.80" y2="270.50" stroke="#111" stroke-width="1.25"/>
<text x="0" y="0" font-size="9" text-anchor="middle" fill="#111" stroke="#111" stroke-width="0.22" textLength="34.6" lengthAdjust="spacingAndGlyphs" transform="translate(370.00,226.20) rotate(-90)">IL-2 (pg/ml)</text>
<rect x="423.95" y="201.10" width="10.50" height="23.30" fill="#572a67" stroke="#431458" stroke-width="1.0"/>
<rect x="423.95" y="231.70" width="10.50" height="36.40" fill="#572a67" stroke="#431458" stroke-width="1.0"/>
<line x1="429.20" y1="200.60" x2="429.20" y2="194.50" stroke="#4b1e63" stroke-width="0.9"/>
<rect x="441.85" y="247.73" width="10.50" height="20.37" fill="#6ea845" stroke="#5c9c33" stroke-width="1.0"/>
<rect x="459.75" y="253.86" width="10.50" height="14.24" fill="#2d4a7e" stroke="#223f76" stroke-width="1.0"/>
<rect x="477.65" y="259.25" width="10.50" height="8.85" fill="#a30e2e" stroke="#960a28" stroke-width="1.0"/>
<circle cx="408.10" cy="266.60" r="2.30" fill="#fff" stroke="#c9c9cc" stroke-width="1.0"/>
<circle cx="411.30" cy="266.60" r="2.30" fill="#fff" stroke="#c9c9cc" stroke-width="1.0"/>
<circle cx="414.50" cy="266.60" r="2.30" fill="#fff" stroke="#c9c9cc" stroke-width="1.0"/>
<circle cx="425.80" cy="193.90" r="2.30" fill="#fff" stroke="#4b1e63" stroke-width="1.0"/>
<circle cx="433.00" cy="195.10" r="2.30" fill="#fff" stroke="#4b1e63" stroke-width="1.0"/>
<circle cx="429.40" cy="211.40" r="2.30" fill="#fff" stroke="#4b1e63" stroke-width="1.0"/>
<circle cx="443.80" cy="244.60" r="2.30" fill="#fff" stroke="#6aaa3c" stroke-width="1.0"/>
<circle cx="450.80" cy="244.60" r="2.30" fill="#fff" stroke="#6aaa3c" stroke-width="1.0"/>
<circle cx="447.40" cy="252.30" r="2.30" fill="#fff" stroke="#6aaa3c" stroke-width="1.0"/>
<circle cx="465.20" cy="248.00" r="2.30" fill="#fff" stroke="#2c4b82" stroke-width="1.0"/>
<circle cx="461.80" cy="253.50" r="2.30" fill="#fff" stroke="#2c4b82" stroke-width="1.0"/>
<circle cx="468.80" cy="253.50" r="2.30" fill="#fff" stroke="#2c4b82" stroke-width="1.0"/>
<circle cx="479.10" cy="257.80" r="2.30" fill="#fff" stroke="#a8102e" stroke-width="1.0"/>
<circle cx="483.20" cy="254.70" r="2.30" fill="#fff" stroke="#a8102e" stroke-width="1.0"/>
<circle cx="487.10" cy="256.40" r="2.30" fill="#fff" stroke="#a8102e" stroke-width="1.0"/>
<circle cx="497.20" cy="266.60" r="2.30" fill="#fff" stroke="#4f5a73" stroke-width="1.0"/>
<circle cx="500.80" cy="266.60" r="2.30" fill="#fff" stroke="#4f5a73" stroke-width="1.0"/>
<circle cx="504.40" cy="266.60" r="2.30" fill="#fff" stroke="#4f5a73" stroke-width="1.0"/>
<text x="0" y="0" font-size="8" text-anchor="end" fill="#222" transform="translate(414.90,278.70) rotate(-45)">ut</text>
<text x="0" y="0" font-size="8" text-anchor="end" fill="#222" transform="translate(432.80,278.70) rotate(-45)">αCD3/αCD28</text>
<text x="0" y="0" font-size="8" text-anchor="end" fill="#222" transform="translate(450.70,278.70) rotate(-45)">TR66-LV</text>
<text x="0" y="0" font-size="8" text-anchor="end" fill="#222" transform="translate(468.60,278.70) rotate(-45)">TR66.opt-LV</text>
<text x="0" y="0" font-size="8" text-anchor="end" fill="#222" transform="translate(486.50,278.70) rotate(-45)">HuM291-LV</text>
<text x="0" y="0" font-size="8" text-anchor="end" fill="#222" transform="translate(504.40,278.70) rotate(-45)">VSV-LV</text>
<text x="6.60" y="334.10" font-size="11" font-weight="bold" fill="#000" stroke="#000" stroke-width="0.45">F</text>
<clipPath id="fclip"><rect x="30.2" y="349.3" width="147.5" height="231.59999999999997"/></clipPath>
<g clip-path="url(#fclip)">
<path d="M30.20,372.30 C45.17,372.30 101.70,372.35 120.00,372.30 C138.30,372.25 135.92,372.50 140.00,372.00 C144.08,371.50 143.25,370.67 144.50,369.30 C145.75,367.93 146.53,365.22 147.50,363.80 C148.47,362.38 149.42,361.63 150.30,360.80 C151.18,359.97 151.98,359.75 152.80,358.80 C153.62,357.85 154.45,355.18 155.20,355.10 C155.95,355.02 156.62,356.27 157.30,358.30 C157.98,360.33 158.60,365.13 159.30,367.30 C160.00,369.47 160.38,370.52 161.50,371.30 C162.62,372.08 163.30,371.83 166.00,372.00 C168.70,372.17 175.75,372.25 177.70,372.30 L177.70,373.30 L30.20,373.30 Z" fill="#dadada" stroke="none"/>
<path d="M30.20,372.30 C45.17,372.30 101.70,372.35 120.00,372.30 C138.30,372.25 135.92,372.50 140.00,372.00 C144.08,371.50 143.25,370.67 144.50,369.30 C145.75,367.93 146.53,365.22 147.50,363.80 C148.47,362.38 149.42,361.63 150.30,360.80 C151.18,359.97 151.98,359.75 152.80,358.80 C153.62,357.85 154.45,355.18 155.20,355.10 C155.95,355.02 156.62,356.27 157.30,358.30 C157.98,360.33 158.60,365.13 159.30,367.30 C160.00,369.47 160.38,370.52 161.50,371.30 C162.62,372.08 163.30,371.83 166.00,372.00 C168.70,372.17 175.75,372.25 177.70,372.30" fill="none" stroke="#bdbdbd" stroke-width="0.9"/>
<path d="M30.20,391.25 C45.17,391.25 101.70,391.31 120.00,391.25 C138.30,391.20 135.92,391.45 140.00,390.95 C144.08,390.45 143.25,389.62 144.50,388.25 C145.75,386.89 146.50,384.09 147.50,382.75 C148.50,381.42 149.58,381.09 150.50,380.25 C151.42,379.42 152.15,378.84 153.00,377.75 C153.85,376.67 154.83,373.84 155.60,373.75 C156.37,373.67 156.93,375.17 157.60,377.25 C158.27,379.34 158.90,384.09 159.60,386.25 C160.30,388.42 160.73,389.47 161.80,390.25 C162.87,391.04 163.35,390.79 166.00,390.95 C168.65,391.12 175.75,391.20 177.70,391.25 L177.70,392.25 L30.20,392.25 Z" fill="#dadada" stroke="none"/>
<path d="M30.20,391.25 C45.17,391.25 101.70,391.31 120.00,391.25 C138.30,391.20 135.92,391.45 140.00,390.95 C144.08,390.45 143.25,389.62 144.50,388.25 C145.75,386.89 146.50,384.09 147.50,382.75 C148.50,381.42 149.58,381.09 150.50,380.25 C151.42,379.42 152.15,378.84 153.00,377.75 C153.85,376.67 154.83,373.84 155.60,373.75 C156.37,373.67 156.93,375.17 157.60,377.25 C158.27,379.34 158.90,384.09 159.60,386.25 C160.30,388.42 160.73,389.47 161.80,390.25 C162.87,391.04 163.35,390.79 166.00,390.95 C168.65,391.12 175.75,391.20 177.70,391.25" fill="none" stroke="#bdbdbd" stroke-width="0.9"/>
<path d="M30.20,410.21 C40.17,410.16 78.30,410.08 90.00,409.91 C101.70,409.74 98.07,409.99 100.40,409.21 C102.73,408.43 102.85,406.33 104.00,405.21 C105.15,404.09 106.30,402.64 107.30,402.51 C108.30,402.38 109.13,403.88 110.00,404.41 C110.87,404.94 111.67,406.33 112.50,405.71 C113.33,405.09 114.28,402.03 115.00,400.71 C115.72,399.39 116.13,397.56 116.80,397.81 C117.47,398.06 118.13,400.79 119.00,402.21 C119.87,403.63 120.78,406.06 122.00,406.31 C123.22,406.56 124.97,403.69 126.30,403.71 C127.63,403.73 128.55,405.88 130.00,406.41 C131.45,406.94 133.00,406.76 135.00,406.91 C137.00,407.06 140.25,407.84 142.00,407.31 C143.75,406.78 144.22,404.86 145.50,403.71 C146.78,402.56 148.53,401.33 149.70,400.41 C150.87,399.49 151.58,399.36 152.50,398.21 C153.42,397.06 154.37,393.68 155.20,393.51 C156.03,393.34 156.78,395.09 157.50,397.21 C158.22,399.33 158.75,404.21 159.50,406.21 C160.25,408.21 160.25,408.59 162.00,409.21 C163.75,409.83 167.38,409.74 170.00,409.91 C172.62,410.08 176.42,410.16 177.70,410.21 L177.70,411.21 L30.20,411.21 Z" fill="#9a80aa" stroke="none"/>
<path d="M30.20,410.21 C40.17,410.16 78.30,410.08 90.00,409.91 C101.70,409.74 98.07,409.99 100.40,409.21 C102.73,408.43 102.85,406.33 104.00,405.21 C105.15,404.09 106.30,402.64 107.30,402.51 C108.30,402.38 109.13,403.88 110.00,404.41 C110.87,404.94 111.67,406.33 112.50,405.71 C113.33,405.09 114.28,402.03 115.00,400.71 C115.72,399.39 116.13,397.56 116.80,397.81 C117.47,398.06 118.13,400.79 119.00,402.21 C119.87,403.63 120.78,406.06 122.00,406.31 C123.22,406.56 124.97,403.69 126.30,403.71 C127.63,403.73 128.55,405.88 130.00,406.41 C131.45,406.94 133.00,406.76 135.00,406.91 C137.00,407.06 140.25,407.84 142.00,407.31 C143.75,406.78 144.22,404.86 145.50,403.71 C146.78,402.56 148.53,401.33 149.70,400.41 C150.87,399.49 151.58,399.36 152.50,398.21 C153.42,397.06 154.37,393.68 155.20,393.51 C156.03,393.34 156.78,395.09 157.50,397.21 C158.22,399.33 158.75,404.21 159.50,406.21 C160.25,408.21 160.25,408.59 162.00,409.21 C163.75,409.83 167.38,409.74 170.00,409.91 C172.62,410.08 176.42,410.16 177.70,410.21" fill="none" stroke="#623a78" stroke-width="0.9"/>
<path d="M30.20,429.17 C39.33,429.13 73.37,429.10 85.00,428.97 C96.63,428.83 95.83,428.58 100.00,428.37 C104.17,428.15 107.67,428.00 110.00,427.67 C112.33,427.33 112.83,426.73 114.00,426.37 C115.17,426.00 116.00,425.38 117.00,425.47 C118.00,425.55 118.83,426.62 120.00,426.87 C121.17,427.12 122.83,427.05 124.00,426.97 C125.17,426.88 126.00,426.33 127.00,426.37 C128.00,426.40 128.67,427.00 130.00,427.17 C131.33,427.33 133.17,427.40 135.00,427.37 C136.83,427.33 139.42,427.67 141.00,426.97 C142.58,426.27 143.20,424.57 144.50,423.17 C145.80,421.76 147.55,419.67 148.80,418.56 C150.05,417.46 150.93,417.63 152.00,416.56 C153.07,415.50 154.28,412.31 155.20,412.17 C156.12,412.02 156.78,413.50 157.50,415.67 C158.22,417.83 158.75,423.08 159.50,425.17 C160.25,427.25 160.25,427.55 162.00,428.17 C163.75,428.78 167.38,428.70 170.00,428.87 C172.62,429.03 176.42,429.12 177.70,429.17 L177.70,430.17 L30.20,430.17 Z" fill="#9a80aa" stroke="none"/>
<path d="M30.20,429.17 C39.33,429.13 73.37,429.10 85.00,428.97 C96.63,428.83 95.83,428.58 100.00,428.37 C104.17,428.15 107.67,428.00 110.00,427.67 C112.33,427.33 112.83,426.73 114.00,426.37 C115.17,426.00 116.00,425.38 117.00,425.47 C118.00,425.55 118.83,426.62 120.00,426.87 C121.17,427.12 122.83,427.05 124.00,426.97 C125.17,426.88 126.00,426.33 127.00,426.37 C128.00,426.40 128.67,427.00 130.00,427.17 C131.33,427.33 133.17,427.40 135.00,427.37 C136.83,427.33 139.42,427.67 141.00,426.97 C142.58,426.27 143.20,424.57 144.50,423.17 C145.80,421.76 147.55,419.67 148.80,418.56 C150.05,417.46 150.93,417.63 152.00,416.56 C153.07,415.50 154.28,412.31 155.20,412.17 C156.12,412.02 156.78,413.50 157.50,415.67 C158.22,417.83 158.75,423.08 159.50,425.17 C160.25,427.25 160.25,427.55 162.00,428.17 C163.75,428.78 167.38,428.70 170.00,428.87 C172.62,429.03 176.42,429.12 177.70,429.17" fill="none" stroke="#623a78" stroke-width="0.9"/>
<path d="M30.20,448.12 C41.00,448.09 83.28,448.12 95.00,447.92 C106.72,447.72 98.92,447.34 100.50,446.92 C102.08,446.50 103.08,445.70 104.50,445.42 C105.92,445.14 107.50,445.69 109.00,445.22 C110.50,444.75 112.28,443.45 113.50,442.62 C114.72,441.79 115.38,440.22 116.30,440.22 C117.22,440.22 118.05,442.02 119.00,442.62 C119.95,443.22 120.83,443.62 122.00,443.82 C123.17,444.02 124.67,443.60 126.00,443.82 C127.33,444.04 128.50,444.62 130.00,445.12 C131.50,445.62 133.17,446.62 135.00,446.82 C136.83,447.02 139.33,447.19 141.00,446.32 C142.67,445.45 143.70,443.07 145.00,441.62 C146.30,440.17 147.63,438.67 148.80,437.62 C149.97,436.57 150.90,436.34 152.00,435.32 C153.10,434.30 154.40,431.39 155.40,431.52 C156.40,431.65 157.23,434.02 158.00,436.12 C158.77,438.22 159.33,442.29 160.00,444.12 C160.67,445.95 160.33,446.50 162.00,447.12 C163.67,447.74 167.38,447.65 170.00,447.82 C172.62,447.99 176.42,448.07 177.70,448.12 L177.70,449.12 L30.20,449.12 Z" fill="#b5d59c" stroke="none"/>
<path d="M30.20,448.12 C41.00,448.09 83.28,448.12 95.00,447.92 C106.72,447.72 98.92,447.34 100.50,446.92 C102.08,446.50 103.08,445.70 104.50,445.42 C105.92,445.14 107.50,445.69 109.00,445.22 C110.50,444.75 112.28,443.45 113.50,442.62 C114.72,441.79 115.38,440.22 116.30,440.22 C117.22,440.22 118.05,442.02 119.00,442.62 C119.95,443.22 120.83,443.62 122.00,443.82 C123.17,444.02 124.67,443.60 126.00,443.82 C127.33,444.04 128.50,444.62 130.00,445.12 C131.50,445.62 133.17,446.62 135.00,446.82 C136.83,447.02 139.33,447.19 141.00,446.32 C142.67,445.45 143.70,443.07 145.00,441.62 C146.30,440.17 147.63,438.67 148.80,437.62 C149.97,436.57 150.90,436.34 152.00,435.32 C153.10,434.30 154.40,431.39 155.40,431.52 C156.40,431.65 157.23,434.02 158.00,436.12 C158.77,438.22 159.33,442.29 160.00,444.12 C160.67,445.95 160.33,446.50 162.00,447.12 C163.67,447.74 167.38,447.65 170.00,447.82 C172.62,447.99 176.42,448.07 177.70,448.12" fill="none" stroke="#7cb65a" stroke-width="0.9"/>
<path d="M30.20,467.07 C41.83,467.02 83.37,466.91 100.00,466.77 C116.63,466.64 123.00,466.47 130.00,466.27 C137.00,466.07 139.43,466.11 142.00,465.57 C144.57,465.04 144.40,464.49 145.40,463.07 C146.40,461.66 147.13,458.57 148.00,457.07 C148.87,455.57 149.77,454.77 150.60,454.07 C151.43,453.38 152.20,453.61 153.00,452.88 C153.80,452.14 154.60,449.56 155.40,449.68 C156.20,449.79 157.07,451.51 157.80,453.57 C158.53,455.64 159.10,460.02 159.80,462.07 C160.50,464.12 160.63,465.09 162.00,465.88 C163.37,466.66 165.38,466.57 168.00,466.77 C170.62,466.97 176.08,467.02 177.70,467.07 L177.70,468.07 L30.20,468.07 Z" fill="#b5d59c" stroke="none"/>
<path d="M30.20,467.07 C41.83,467.02 83.37,466.91 100.00,466.77 C116.63,466.64 123.00,466.47 130.00,466.27 C137.00,466.07 139.43,466.11 142.00,465.57 C144.57,465.04 144.40,464.49 145.40,463.07 C146.40,461.66 147.13,458.57 148.00,457.07 C148.87,455.57 149.77,454.77 150.60,454.07 C151.43,453.38 152.20,453.61 153.00,452.88 C153.80,452.14 154.60,449.56 155.40,449.68 C156.20,449.79 157.07,451.51 157.80,453.57 C158.53,455.64 159.10,460.02 159.80,462.07 C160.50,464.12 160.63,465.09 162.00,465.88 C163.37,466.66 165.38,466.57 168.00,466.77 C170.62,466.97 176.08,467.02 177.70,467.07" fill="none" stroke="#7cb65a" stroke-width="0.9"/>
<path d="M30.20,486.03 C41.00,485.98 82.03,485.86 95.00,485.73 C107.97,485.60 105.00,485.60 108.00,485.23 C111.00,484.86 111.67,483.98 113.00,483.53 C114.33,483.08 115.00,482.53 116.00,482.53 C117.00,482.53 118.00,483.25 119.00,483.53 C120.00,483.81 120.67,484.23 122.00,484.23 C123.33,484.23 125.50,483.48 127.00,483.53 C128.50,483.58 129.17,484.25 131.00,484.53 C132.83,484.81 135.88,485.65 138.00,485.23 C140.12,484.81 142.20,483.73 143.70,482.03 C145.20,480.33 145.85,476.75 147.00,475.03 C148.15,473.31 149.60,472.15 150.60,471.73 C151.60,471.31 152.20,472.76 153.00,472.53 C153.80,472.30 154.60,469.91 155.40,470.33 C156.20,470.75 157.10,473.08 157.80,475.03 C158.50,476.98 158.98,480.36 159.60,482.03 C160.22,483.70 160.10,484.41 161.50,485.03 C162.90,485.65 165.30,485.56 168.00,485.73 C170.70,485.90 176.08,485.98 177.70,486.03 L177.70,487.03 L30.20,487.03 Z" fill="#8795c3" stroke="none"/>
<path d="M30.20,486.03 C41.00,485.98 82.03,485.86 95.00,485.73 C107.97,485.60 105.00,485.60 108.00,485.23 C111.00,484.86 111.67,483.98 113.00,483.53 C114.33,483.08 115.00,482.53 116.00,482.53 C117.00,482.53 118.00,483.25 119.00,483.53 C120.00,483.81 120.67,484.23 122.00,484.23 C123.33,484.23 125.50,483.48 127.00,483.53 C128.50,483.58 129.17,484.25 131.00,484.53 C132.83,484.81 135.88,485.65 138.00,485.23 C140.12,484.81 142.20,483.73 143.70,482.03 C145.20,480.33 145.85,476.75 147.00,475.03 C148.15,473.31 149.60,472.15 150.60,471.73 C151.60,471.31 152.20,472.76 153.00,472.53 C153.80,472.30 154.60,469.91 155.40,470.33 C156.20,470.75 157.10,473.08 157.80,475.03 C158.50,476.98 158.98,480.36 159.60,482.03 C160.22,483.70 160.10,484.41 161.50,485.03 C162.90,485.65 165.30,485.56 168.00,485.73 C170.70,485.90 176.08,485.98 177.70,486.03" fill="none" stroke="#4a5f9c" stroke-width="0.9"/>
<path d="M30.20,504.99 C43.50,504.94 92.53,504.79 110.00,504.69 C127.47,504.58 129.50,504.67 135.00,504.38 C140.50,504.10 141.17,504.13 143.00,502.99 C144.83,501.84 145.03,499.40 146.00,497.49 C146.97,495.57 147.88,493.04 148.80,491.49 C149.72,489.94 150.72,488.63 151.50,488.19 C152.28,487.74 152.85,488.79 153.50,488.79 C154.15,488.79 154.73,487.49 155.40,488.19 C156.07,488.88 156.82,490.85 157.50,492.99 C158.18,495.12 158.83,499.15 159.50,500.99 C160.17,502.82 160.08,503.37 161.50,503.99 C162.92,504.60 165.30,504.52 168.00,504.69 C170.70,504.85 176.08,504.94 177.70,504.99 L177.70,505.99 L30.20,505.99 Z" fill="#8795c3" stroke="none"/>
<path d="M30.20,504.99 C43.50,504.94 92.53,504.79 110.00,504.69 C127.47,504.58 129.50,504.67 135.00,504.38 C140.50,504.10 141.17,504.13 143.00,502.99 C144.83,501.84 145.03,499.40 146.00,497.49 C146.97,495.57 147.88,493.04 148.80,491.49 C149.72,489.94 150.72,488.63 151.50,488.19 C152.28,487.74 152.85,488.79 153.50,488.79 C154.15,488.79 154.73,487.49 155.40,488.19 C156.07,488.88 156.82,490.85 157.50,492.99 C158.18,495.12 158.83,499.15 159.50,500.99 C160.17,502.82 160.08,503.37 161.50,503.99 C162.92,504.60 165.30,504.52 168.00,504.69 C170.70,504.85 176.08,504.94 177.70,504.99" fill="none" stroke="#4a5f9c" stroke-width="0.9"/>
<path d="M30.20,523.94 C41.00,523.87 82.37,523.74 95.00,523.54 C107.63,523.34 103.17,523.11 106.00,522.74 C108.83,522.37 110.33,521.72 112.00,521.34 C113.67,520.96 114.67,520.42 116.00,520.44 C117.33,520.46 118.50,521.36 120.00,521.44 C121.50,521.52 123.33,520.86 125.00,520.94 C126.67,521.02 128.17,521.81 130.00,521.94 C131.83,522.07 134.30,522.07 136.00,521.74 C137.70,521.41 139.03,520.91 140.20,519.94 C141.37,518.97 142.12,517.52 143.00,515.94 C143.88,514.36 144.58,511.89 145.50,510.44 C146.42,508.99 147.58,507.57 148.50,507.24 C149.42,506.91 150.25,507.32 151.00,508.44 C151.75,509.56 152.37,512.02 153.00,513.94 C153.63,515.86 154.20,518.47 154.80,519.94 C155.40,521.41 155.40,522.12 156.60,522.74 C157.80,523.36 158.48,523.44 162.00,523.64 C165.52,523.84 175.08,523.89 177.70,523.94 L177.70,524.94 L30.20,524.94 Z" fill="#d98477" stroke="none"/>
<path d="M30.20,523.94 C41.00,523.87 82.37,523.74 95.00,523.54 C107.63,523.34 103.17,523.11 106.00,522.74 C108.83,522.37 110.33,521.72 112.00,521.34 C113.67,520.96 114.67,520.42 116.00,520.44 C117.33,520.46 118.50,521.36 120.00,521.44 C121.50,521.52 123.33,520.86 125.00,520.94 C126.67,521.02 128.17,521.81 130.00,521.94 C131.83,522.07 134.30,522.07 136.00,521.74 C137.70,521.41 139.03,520.91 140.20,519.94 C141.37,518.97 142.12,517.52 143.00,515.94 C143.88,514.36 144.58,511.89 145.50,510.44 C146.42,508.99 147.58,507.57 148.50,507.24 C149.42,506.91 150.25,507.32 151.00,508.44 C151.75,509.56 152.37,512.02 153.00,513.94 C153.63,515.86 154.20,518.47 154.80,519.94 C155.40,521.41 155.40,522.12 156.60,522.74 C157.80,523.36 158.48,523.44 162.00,523.64 C165.52,523.84 175.08,523.89 177.70,523.94" fill="none" stroke="#c5404d" stroke-width="0.9"/>
<path d="M30.20,542.89 C43.50,542.86 93.37,542.78 110.00,542.69 C126.63,542.61 125.50,542.53 130.00,542.39 C134.50,542.26 135.17,542.31 137.00,541.89 C138.83,541.48 139.92,541.06 141.00,539.89 C142.08,538.73 142.67,536.64 143.50,534.89 C144.33,533.14 145.12,530.85 146.00,529.39 C146.88,527.94 147.97,526.53 148.80,526.19 C149.63,525.86 150.30,526.28 151.00,527.39 C151.70,528.51 152.37,530.98 153.00,532.89 C153.63,534.81 154.13,537.39 154.80,538.89 C155.47,540.39 155.80,541.28 157.00,541.89 C158.20,542.51 158.55,542.43 162.00,542.60 C165.45,542.76 175.08,542.85 177.70,542.89 L177.70,543.89 L30.20,543.89 Z" fill="#d98477" stroke="none"/>
<path d="M30.20,542.89 C43.50,542.86 93.37,542.78 110.00,542.69 C126.63,542.61 125.50,542.53 130.00,542.39 C134.50,542.26 135.17,542.31 137.00,541.89 C138.83,541.48 139.92,541.06 141.00,539.89 C142.08,538.73 142.67,536.64 143.50,534.89 C144.33,533.14 145.12,530.85 146.00,529.39 C146.88,527.94 147.97,526.53 148.80,526.19 C149.63,525.86 150.30,526.28 151.00,527.39 C151.70,528.51 152.37,530.98 153.00,532.89 C153.63,534.81 154.13,537.39 154.80,538.89 C155.47,540.39 155.80,541.28 157.00,541.89 C158.20,542.51 158.55,542.43 162.00,542.60 C165.45,542.76 175.08,542.85 177.70,542.89" fill="none" stroke="#c5404d" stroke-width="0.9"/>
<path d="M30.20,561.85 C46.83,561.82 111.70,561.73 130.00,561.65 C148.30,561.57 137.67,561.58 140.00,561.35 C142.33,561.12 142.83,561.03 144.00,560.25 C145.17,559.47 145.92,558.05 147.00,556.65 C148.08,555.25 149.42,553.40 150.50,551.85 C151.58,550.30 152.65,548.52 153.50,547.35 C154.35,546.18 154.92,544.77 155.60,544.85 C156.28,544.93 156.90,546.02 157.60,547.85 C158.30,549.68 159.02,553.77 159.80,555.85 C160.58,557.93 161.27,559.40 162.30,560.35 C163.33,561.30 163.43,561.30 166.00,561.55 C168.57,561.80 175.75,561.80 177.70,561.85 L177.70,562.85 L30.20,562.85 Z" fill="#a0a2b0" stroke="none"/>
<path d="M30.20,561.85 C46.83,561.82 111.70,561.73 130.00,561.65 C148.30,561.57 137.67,561.58 140.00,561.35 C142.33,561.12 142.83,561.03 144.00,560.25 C145.17,559.47 145.92,558.05 147.00,556.65 C148.08,555.25 149.42,553.40 150.50,551.85 C151.58,550.30 152.65,548.52 153.50,547.35 C154.35,546.18 154.92,544.77 155.60,544.85 C156.28,544.93 156.90,546.02 157.60,547.85 C158.30,549.68 159.02,553.77 159.80,555.85 C160.58,557.93 161.27,559.40 162.30,560.35 C163.33,561.30 163.43,561.30 166.00,561.55 C168.57,561.80 175.75,561.80 177.70,561.85" fill="none" stroke="#6a6e80" stroke-width="0.9"/>
<path d="M30.20,580.81 C46.83,580.77 111.70,580.69 130.00,580.61 C148.30,580.52 137.67,580.54 140.00,580.31 C142.33,580.07 142.83,579.99 144.00,579.21 C145.17,578.42 145.92,577.09 147.00,575.61 C148.08,574.12 149.42,571.94 150.50,570.31 C151.58,568.67 152.65,566.99 153.50,565.81 C154.35,564.62 154.92,563.12 155.60,563.21 C156.28,563.29 156.90,564.37 157.60,566.31 C158.30,568.24 159.02,572.64 159.80,574.81 C160.58,576.97 161.27,578.36 162.30,579.31 C163.33,580.26 163.43,580.26 166.00,580.51 C168.57,580.76 175.75,580.76 177.70,580.81 L177.70,581.81 L30.20,581.81 Z" fill="#a0a2b0" stroke="none"/>
<path d="M30.20,580.81 C46.83,580.77 111.70,580.69 130.00,580.61 C148.30,580.52 137.67,580.54 140.00,580.31 C142.33,580.07 142.83,579.99 144.00,579.21 C145.17,578.42 145.92,577.09 147.00,575.61 C148.08,574.12 149.42,571.94 150.50,570.31 C151.58,568.67 152.65,566.99 153.50,565.81 C154.35,564.62 154.92,563.12 155.60,563.21 C156.28,563.29 156.90,564.37 157.60,566.31 C158.30,568.24 159.02,572.64 159.80,574.81 C160.58,576.97 161.27,578.36 162.30,579.31 C163.33,580.26 163.43,580.26 166.00,580.51 C168.57,580.76 175.75,580.76 177.70,580.81" fill="none" stroke="#6a6e80" stroke-width="0.9"/>
</g>
<rect x="30.20" y="349.30" width="165.70" height="231.60" fill="none" stroke="#444" stroke-width="1.1"/>
<line x1="177.70" y1="349.30" x2="177.70" y2="580.90" stroke="#333" stroke-width="1.1"/>
<text x="185.40" y="344.70" font-size="7.8" text-anchor="middle" fill="#111" stroke="#111" stroke-width="0.15" >αCD28</text>
<text x="186.60" y="364.50" font-size="8.8" text-anchor="middle" fill="#111" stroke="#111" stroke-width="0.15" >+</text>
<text x="186.60" y="381.90" font-size="8.2" text-anchor="middle" fill="#111" stroke="#111" stroke-width="0.15" >-</text>
<text x="186.60" y="402.80" font-size="8.8" text-anchor="middle" fill="#111" stroke="#111" stroke-width="0.15" >+</text>
<text x="186.60" y="420.32" font-size="8.2" text-anchor="middle" fill="#111" stroke="#111" stroke-width="0.15" >-</text>
<text x="186.60" y="441.10" font-size="8.8" text-anchor="middle" fill="#111" stroke="#111" stroke-width="0.15" >+</text>
<text x="186.60" y="458.74" font-size="8.2" text-anchor="middle" fill="#111" stroke="#111" stroke-width="0.15" >-</text>
<text x="186.60" y="479.40" font-size="8.8" text-anchor="middle" fill="#111" stroke="#111" stroke-width="0.15" >+</text>
<text x="186.60" y="497.16" font-size="8.2" text-anchor="middle" fill="#111" stroke="#111" stroke-width="0.15" >-</text>
<text x="186.60" y="517.70" font-size="8.8" text-anchor="middle" fill="#111" stroke="#111" stroke-width="0.15" >+</text>
<text x="186.60" y="535.58" font-size="8.2" text-anchor="middle" fill="#111" stroke="#111" stroke-width="0.15" >-</text>
<text x="186.60" y="556.00" font-size="8.8" text-anchor="middle" fill="#111" stroke="#111" stroke-width="0.15" >+</text>
<text x="186.60" y="574.00" font-size="8.2" text-anchor="middle" fill="#111" stroke="#111" stroke-width="0.15" >-</text>
<text x="32.60" y="361.80" font-size="6.7" text-anchor="start" fill="#c8c8c8" stroke="#c8c8c8" stroke-width="0.15" >ut</text>
<text x="32.60" y="403.21" font-size="6.7" text-anchor="start" fill="#6d3f82" stroke="#6d3f82" stroke-width="0.15" >αCD3</text>
<text x="32.60" y="441.12" font-size="6.7" text-anchor="start" fill="#7cb65a" stroke="#7cb65a" stroke-width="0.15" >TR66-LV</text>
<text x="32.60" y="479.03" font-size="6.7" text-anchor="start" fill="#3f5a97" stroke="#3f5a97" stroke-width="0.15" >TR66.opt-LV</text>
<text x="32.60" y="516.94" font-size="6.7" text-anchor="start" fill="#b8283f" stroke="#b8283f" stroke-width="0.15" >HuM291-LV</text>
<text x="32.60" y="554.85" font-size="6.7" text-anchor="start" fill="#555b6b" stroke="#555b6b" stroke-width="0.15" >VSV-LV</text>
<line x1="18.90" y1="407.00" x2="18.90" y2="579.40" stroke="#222" stroke-width="1.0"/>
<path d="M17.3,408.6 L20.5,408.6 L18.9,404 Z" fill="#222"/>
<text x="0" y="0" font-size="9.2" text-anchor="middle" fill="#111" stroke="#111" stroke-width="0.22" textLength="48.1" lengthAdjust="spacingAndGlyphs" transform="translate(22.20,373.00) rotate(-90)">normalized count</text>
<line x1="30.50" y1="580.90" x2="30.50" y2="583.20" stroke="#222" stroke-width="0.9"/>
<text x="31.00" y="596.9" font-size="7.7" text-anchor="middle" fill="#111" stroke="#111" stroke-width="0.15">10<tspan font-size="5.6" dy="-3.2">1</tspan></text>
<line x1="61.90" y1="580.90" x2="61.90" y2="583.20" stroke="#222" stroke-width="0.9"/>
<text x="62.40" y="596.9" font-size="7.7" text-anchor="middle" fill="#111" stroke="#111" stroke-width="0.15">10<tspan font-size="5.6" dy="-3.2">2</tspan></text>
<line x1="93.30" y1="580.90" x2="93.30" y2="583.20" stroke="#222" stroke-width="0.9"/>
<text x="93.80" y="596.9" font-size="7.7" text-anchor="middle" fill="#111" stroke="#111" stroke-width="0.15">10<tspan font-size="5.6" dy="-3.2">3</tspan></text>
<line x1="124.40" y1="580.90" x2="124.40" y2="583.20" stroke="#222" stroke-width="0.9"/>
<text x="124.90" y="596.9" font-size="7.7" text-anchor="middle" fill="#111" stroke="#111" stroke-width="0.15">10<tspan font-size="5.6" dy="-3.2">4</tspan></text>
<line x1="148.70" y1="580.90" x2="148.70" y2="583.20" stroke="#222" stroke-width="0.9"/>
<text x="149.20" y="596.9" font-size="7.7" text-anchor="middle" fill="#111" stroke="#111" stroke-width="0.15">10<tspan font-size="5.6" dy="-3.2">5</tspan></text>
<line x1="22.00" y1="610.00" x2="127.20" y2="610.00" stroke="#222" stroke-width="1.0"/>
<path d="M18.6,610 L23.6,608.2 L23.6,611.8 Z" fill="#222"/>
<text x="150.90" y="612.90" font-size="8.8" text-anchor="middle" fill="#111" stroke="#111" stroke-width="0.22" textLength="33.8" lengthAdjust="spacingAndGlyphs">CTV dilution</text>
<text x="215.20" y="334.70" font-size="11" font-weight="bold" fill="#000" stroke="#000" stroke-width="0.45">G</text>
<line x1="252.20" y1="362.40" x2="252.20" y2="450.00" stroke="#111" stroke-width="1.35"/>
<line x1="251.70" y1="449.50" x2="370.80" y2="449.50" stroke="#111" stroke-width="1.35"/>
<line x1="249.60" y1="449.50" x2="252.20" y2="449.50" stroke="#111" stroke-width="1.25"/>
<text x="243.80" y="452.45" font-size="8.2" text-anchor="middle" fill="#111" stroke="#111" stroke-width="0.15" >0</text>
<line x1="249.60" y1="432.75" x2="252.20" y2="432.75" stroke="#111" stroke-width="1.25"/>
<text x="243.80" y="435.70" font-size="8.2" text-anchor="middle" fill="#111" stroke="#111" stroke-width="0.15" >1</text>
<line x1="249.60" y1="416.00" x2="252.20" y2="416.00" stroke="#111" stroke-width="1.25"/>
<text x="243.80" y="418.95" font-size="8.2" text-anchor="middle" fill="#111" stroke="#111" stroke-width="0.15" >2</text>
<line x1="249.60" y1="399.25" x2="252.20" y2="399.25" stroke="#111" stroke-width="1.25"/>
<text x="243.80" y="402.20" font-size="8.2" text-anchor="middle" fill="#111" stroke="#111" stroke-width="0.15" >3</text>
<line x1="249.60" y1="382.50" x2="252.20" y2="382.50" stroke="#111" stroke-width="1.25"/>
<text x="243.80" y="385.45" font-size="8.2" text-anchor="middle" fill="#111" stroke="#111" stroke-width="0.15" >4</text>
<line x1="249.60" y1="365.75" x2="252.20" y2="365.75" stroke="#111" stroke-width="1.25"/>
<text x="243.80" y="368.70" font-size="8.2" text-anchor="middle" fill="#111" stroke="#111" stroke-width="0.15" >5</text>
<line x1="262.50" y1="449.50" x2="262.50" y2="451.90" stroke="#111" stroke-width="1.25"/>
<line x1="282.00" y1="449.50" x2="282.00" y2="451.90" stroke="#111" stroke-width="1.25"/>
<line x1="301.50" y1="449.50" x2="301.50" y2="451.90" stroke="#111" stroke-width="1.25"/>
<line x1="321.00" y1="449.50" x2="321.00" y2="451.90" stroke="#111" stroke-width="1.25"/>
<line x1="340.50" y1="449.50" x2="340.50" y2="451.90" stroke="#111" stroke-width="1.25"/>
<line x1="360.00" y1="449.50" x2="360.00" y2="451.90" stroke="#111" stroke-width="1.25"/>
<text x="0" y="0" font-size="9.2" text-anchor="middle" fill="#111" stroke="#111" stroke-width="0.22" textLength="42" lengthAdjust="spacingAndGlyphs" transform="translate(236.70,406.00) rotate(-90)">Fold-expansion</text>
<rect x="255.90" y="443.63" width="5.20" height="5.87" fill="#c6c5c8" stroke="#bebdc1" stroke-width="1.0"/>
<rect x="263.90" y="441.62" width="5.20" height="7.88" fill="#2e4a80" stroke="#1f3d78" stroke-width="1.0"/>
<line x1="278.00" y1="390.88" x2="278.00" y2="374.12" stroke="#c6c5c8" stroke-width="0.9"/>
<line x1="276.50" y1="374.12" x2="279.50" y2="374.12" stroke="#c6c5c8" stroke-width="0.9"/>
<rect x="275.40" y="391.38" width="5.20" height="58.12" fill="#c6c5c8" stroke="#bebdc1" stroke-width="1.0"/>
<rect x="283.40" y="393.55" width="5.20" height="55.95" fill="#2e4a80" stroke="#1f3d78" stroke-width="1.0"/>
<rect x="294.90" y="426.38" width="5.20" height="23.12" fill="#c6c5c8" stroke="#bebdc1" stroke-width="1.0"/>
<rect x="302.90" y="397.40" width="5.20" height="52.10" fill="#2e4a80" stroke="#1f3d78" stroke-width="1.0"/>
<line x1="317.00" y1="427.73" x2="317.00" y2="419.35" stroke="#c6c5c8" stroke-width="0.9"/>
<line x1="315.50" y1="419.35" x2="318.50" y2="419.35" stroke="#c6c5c8" stroke-width="0.9"/>
<rect x="314.40" y="428.23" width="5.20" height="21.27" fill="#c6c5c8" stroke="#bebdc1" stroke-width="1.0"/>
<rect x="322.40" y="399.08" width="5.20" height="50.42" fill="#2e4a80" stroke="#1f3d78" stroke-width="1.0"/>
<line x1="336.50" y1="426.22" x2="336.50" y2="416.00" stroke="#c6c5c8" stroke-width="0.9"/>
<line x1="335.00" y1="416.00" x2="338.00" y2="416.00" stroke="#c6c5c8" stroke-width="0.9"/>
<rect x="333.90" y="426.72" width="5.20" height="22.78" fill="#c6c5c8" stroke="#bebdc1" stroke-width="1.0"/>
<rect x="341.90" y="400.42" width="5.20" height="49.08" fill="#2e4a80" stroke="#1f3d78" stroke-width="1.0"/>
<rect x="353.40" y="444.47" width="5.20" height="5.03" fill="#c6c5c8" stroke="#bebdc1" stroke-width="1.0"/>
<rect x="361.40" y="443.47" width="5.20" height="6.03" fill="#2e4a80" stroke="#1f3d78" stroke-width="1.0"/>
<circle cx="259.10" cy="439.90" r="2.20" fill="#fff" stroke="#c2c2c4" stroke-width="1.05"/>
<circle cx="258.20" cy="443.00" r="2.20" fill="#fff" stroke="#c2c2c4" stroke-width="1.05"/>
<circle cx="266.60" cy="435.60" r="2.20" fill="#fff" stroke="#2e4a80" stroke-width="1.05"/>
<circle cx="268.80" cy="438.90" r="2.20" fill="#fff" stroke="#2e4a80" stroke-width="1.05"/>
<circle cx="266.60" cy="441.70" r="2.20" fill="#fff" stroke="#2e4a80" stroke-width="1.05"/>
<circle cx="278.30" cy="379.20" r="2.20" fill="#fff" stroke="#c2c2c4" stroke-width="1.05"/>
<circle cx="278.30" cy="401.00" r="2.20" fill="#fff" stroke="#c2c2c4" stroke-width="1.05"/>
<circle cx="286.30" cy="385.80" r="2.20" fill="#fff" stroke="#2e4a80" stroke-width="1.05"/>
<circle cx="286.30" cy="393.00" r="2.20" fill="#fff" stroke="#2e4a80" stroke-width="1.05"/>
<circle cx="286.30" cy="399.50" r="2.20" fill="#fff" stroke="#2e4a80" stroke-width="1.05"/>
<circle cx="298.50" cy="421.50" r="2.20" fill="#fff" stroke="#c2c2c4" stroke-width="1.05"/>
<circle cx="296.30" cy="424.80" r="2.20" fill="#fff" stroke="#c2c2c4" stroke-width="1.05"/>
<circle cx="297.50" cy="429.60" r="2.20" fill="#fff" stroke="#c2c2c4" stroke-width="1.05"/>
<circle cx="304.60" cy="394.60" r="2.20" fill="#fff" stroke="#2e4a80" stroke-width="1.05"/>
<circle cx="306.50" cy="393.20" r="2.20" fill="#fff" stroke="#2e4a80" stroke-width="1.05"/>
<circle cx="305.60" cy="402.70" r="2.20" fill="#fff" stroke="#2e4a80" stroke-width="1.05"/>
<circle cx="316.90" cy="419.60" r="2.20" fill="#fff" stroke="#c2c2c4" stroke-width="1.05"/>
<circle cx="316.90" cy="430.00" r="2.20" fill="#fff" stroke="#c2c2c4" stroke-width="1.05"/>
<circle cx="316.90" cy="434.40" r="2.20" fill="#fff" stroke="#c2c2c4" stroke-width="1.05"/>
<circle cx="324.90" cy="392.30" r="2.20" fill="#fff" stroke="#2e4a80" stroke-width="1.05"/>
<circle cx="324.90" cy="399.70" r="2.20" fill="#fff" stroke="#2e4a80" stroke-width="1.05"/>
<circle cx="324.90" cy="406.20" r="2.20" fill="#fff" stroke="#2e4a80" stroke-width="1.05"/>
<circle cx="336.20" cy="416.50" r="2.20" fill="#fff" stroke="#c2c2c4" stroke-width="1.05"/>
<circle cx="336.20" cy="426.20" r="2.20" fill="#fff" stroke="#c2c2c4" stroke-width="1.05"/>
<circle cx="336.20" cy="434.60" r="2.20" fill="#fff" stroke="#c2c2c4" stroke-width="1.05"/>
<circle cx="344.20" cy="394.20" r="2.20" fill="#fff" stroke="#2e4a80" stroke-width="1.05"/>
<circle cx="344.20" cy="401.20" r="2.20" fill="#fff" stroke="#2e4a80" stroke-width="1.05"/>
<circle cx="344.20" cy="407.70" r="2.20" fill="#fff" stroke="#2e4a80" stroke-width="1.05"/>
<circle cx="354.20" cy="443.10" r="2.20" fill="#fff" stroke="#c2c2c4" stroke-width="1.05"/>
<circle cx="356.60" cy="441.20" r="2.20" fill="#fff" stroke="#c2c2c4" stroke-width="1.05"/>
<circle cx="355.70" cy="447.00" r="2.20" fill="#fff" stroke="#c2c2c4" stroke-width="1.05"/>
<circle cx="362.30" cy="441.20" r="2.20" fill="#fff" stroke="#2e4a80" stroke-width="1.05"/>
<circle cx="365.20" cy="441.50" r="2.20" fill="#fff" stroke="#2e4a80" stroke-width="1.05"/>
<circle cx="363.80" cy="446.20" r="2.20" fill="#fff" stroke="#2e4a80" stroke-width="1.05"/>
<line x1="266.50" y1="367.50" x2="284.60" y2="367.50" stroke="#111" stroke-width="1.25"/>
<circle cx="271.48" cy="363.40" r="0.55" fill="#222"/>
<circle cx="274.23" cy="363.40" r="0.55" fill="#222"/>
<circle cx="276.98" cy="363.40" r="0.55" fill="#222"/>
<circle cx="279.73" cy="363.40" r="0.55" fill="#222"/>
<path d="M271.48,362.60L271.48,364.20M270.78,363.00L272.17,363.80M272.17,363.00L270.78,363.80M274.23,362.60L274.23,364.20M273.53,363.00L274.92,363.80M274.92,363.00L273.53,363.80M276.98,362.60L276.98,364.20M276.28,363.00L277.67,363.80M277.67,363.00L276.28,363.80M279.73,362.60L279.73,364.20M279.03,363.00L280.42,363.80M280.42,363.00L279.03,363.80" stroke="#222" stroke-width="0.6" stroke-linecap="round" fill="none"/>
<line x1="286.90" y1="343.50" x2="362.60" y2="343.50" stroke="#111" stroke-width="1.25"/>
<circle cx="320.38" cy="339.60" r="0.55" fill="#222"/>
<circle cx="323.12" cy="339.60" r="0.55" fill="#222"/>
<circle cx="325.88" cy="339.60" r="0.55" fill="#222"/>
<circle cx="328.62" cy="339.60" r="0.55" fill="#222"/>
<path d="M320.38,338.80L320.38,340.40M319.68,339.20L321.07,340.00M321.07,339.20L319.68,340.00M323.12,338.80L323.12,340.40M322.43,339.20L323.82,340.00M323.82,339.20L322.43,340.00M325.88,338.80L325.88,340.40M325.18,339.20L326.57,340.00M326.57,339.20L325.18,340.00M328.62,338.80L328.62,340.40M327.93,339.20L329.32,340.00M329.32,339.20L327.93,340.00" stroke="#222" stroke-width="0.6" stroke-linecap="round" fill="none"/>
<line x1="286.90" y1="355.40" x2="344.20" y2="355.40" stroke="#111" stroke-width="1.25"/>
<text x="315.30" y="353.70" font-size="6.8" text-anchor="middle" fill="#222" stroke="#222" stroke-width="0.15" >ns</text>
<line x1="286.90" y1="367.50" x2="324.50" y2="367.50" stroke="#111" stroke-width="1.25"/>
<text x="305.40" y="365.70" font-size="6.8" text-anchor="middle" fill="#222" stroke="#222" stroke-width="0.15" >ns</text>
<line x1="286.90" y1="379.40" x2="304.90" y2="379.40" stroke="#111" stroke-width="1.25"/>
<text x="295.70" y="377.40" font-size="6.8" text-anchor="middle" fill="#222" stroke="#222" stroke-width="0.15" >ns</text>
<circle cx="375.90" cy="366.80" r="2.20" fill="#fff" stroke="#c2c2c4" stroke-width="0.9"/>
<circle cx="375.90" cy="377.30" r="2.20" fill="#fff" stroke="#2e4a80" stroke-width="1.0"/>
<text x="381.60" y="369.30" font-size="7" text-anchor="start" fill="#222" stroke="#222" stroke-width="0.15" >no costim.</text>
<text x="381.60" y="379.80" font-size="7.3" text-anchor="start" fill="#111" stroke="#111" stroke-width="0.15" >+ αCD28</text>
<text x="0" y="0" font-size="7.4" text-anchor="end" fill="#222" transform="translate(265.10,458.90) rotate(-45)">ut</text>
<text x="0" y="0" font-size="7.4" text-anchor="end" fill="#222" transform="translate(284.60,458.90) rotate(-45)">αCD3</text>
<text x="0" y="0" font-size="7.4" text-anchor="end" fill="#222" transform="translate(304.10,458.90) rotate(-45)">TR66-LV</text>
<text x="0" y="0" font-size="7.4" text-anchor="end" fill="#222" transform="translate(323.60,458.90) rotate(-45)">TR66.opt-LV</text>
<text x="0" y="0" font-size="7.4" text-anchor="end" fill="#222" transform="translate(343.10,458.90) rotate(-45)">HuM291-LV</text>
<text x="0" y="0" font-size="7.4" text-anchor="end" fill="#222" transform="translate(362.60,458.90) rotate(-45)">VSV-LV</text>
<text x="215.30" y="505.20" font-size="11" font-weight="bold" fill="#000" stroke="#000" stroke-width="0.45">H</text>
<line x1="252.40" y1="509.20" x2="252.40" y2="597.30" stroke="#111" stroke-width="1.35"/>
<line x1="251.90" y1="596.80" x2="336.50" y2="596.80" stroke="#111" stroke-width="1.35"/>
<line x1="249.80" y1="596.90" x2="252.40" y2="596.90" stroke="#111" stroke-width="1.25"/>
<text x="246.20" y="599.85" font-size="8.2" text-anchor="end" fill="#111" stroke="#111" stroke-width="0.15" >0</text>
<line x1="249.80" y1="568.65" x2="252.40" y2="568.65" stroke="#111" stroke-width="1.25"/>
<text x="246.20" y="571.60" font-size="8.2" text-anchor="end" fill="#111" stroke="#111" stroke-width="0.15" >20</text>
<line x1="249.80" y1="540.40" x2="252.40" y2="540.40" stroke="#111" stroke-width="1.25"/>
<text x="246.20" y="543.35" font-size="8.2" text-anchor="end" fill="#111" stroke="#111" stroke-width="0.15" >40</text>
<line x1="249.80" y1="512.15" x2="252.40" y2="512.15" stroke="#111" stroke-width="1.25"/>
<text x="246.20" y="515.10" font-size="8.2" text-anchor="end" fill="#111" stroke="#111" stroke-width="0.15" >60</text>
<line x1="263.10" y1="596.60" x2="263.10" y2="599.00" stroke="#111" stroke-width="1.25"/>
<line x1="283.70" y1="596.60" x2="283.70" y2="599.00" stroke="#111" stroke-width="1.25"/>
<line x1="303.80" y1="596.60" x2="303.80" y2="599.00" stroke="#111" stroke-width="1.25"/>
<line x1="324.00" y1="596.60" x2="324.00" y2="599.00" stroke="#111" stroke-width="1.25"/>
<text x="0" y="0" font-size="9.3" text-anchor="middle" fill="#111" stroke="#111" stroke-width="0.22" textLength="59.2" lengthAdjust="spacingAndGlyphs" transform="translate(232.00,552.50) rotate(-90)">% GFP-positive cells</text>
<line x1="268.10" y1="544.07" x2="268.10" y2="537.70" stroke="#2e4a80" stroke-width="0.9"/>
<line x1="266.60" y1="537.70" x2="269.60" y2="537.70" stroke="#2e4a80" stroke-width="0.9"/>
<rect x="255.80" y="548.53" width="5.60" height="48.07" fill="#c6c5c8" stroke="#bebdc1" stroke-width="1.0"/>
<rect x="265.30" y="544.57" width="5.60" height="52.03" fill="#2e4a80" stroke="#1f3d78" stroke-width="1.0"/>
<line x1="279.30" y1="555.09" x2="279.30" y2="540.00" stroke="#d0d0d2" stroke-width="0.9"/>
<line x1="277.80" y1="540.00" x2="280.80" y2="540.00" stroke="#d0d0d2" stroke-width="0.9"/>
<line x1="288.80" y1="553.54" x2="288.80" y2="533.50" stroke="#2e4a80" stroke-width="0.9"/>
<line x1="287.30" y1="533.50" x2="290.30" y2="533.50" stroke="#2e4a80" stroke-width="0.9"/>
<rect x="276.50" y="555.59" width="5.60" height="41.01" fill="#c6c5c8" stroke="#bebdc1" stroke-width="1.0"/>
<rect x="286.00" y="554.04" width="5.60" height="42.56" fill="#2e4a80" stroke="#1f3d78" stroke-width="1.0"/>
<line x1="300.00" y1="570.91" x2="300.00" y2="560.50" stroke="#d0d0d2" stroke-width="0.9"/>
<line x1="298.50" y1="560.50" x2="301.50" y2="560.50" stroke="#d0d0d2" stroke-width="0.9"/>
<line x1="309.90" y1="568.93" x2="309.90" y2="560.80" stroke="#2e4a80" stroke-width="0.9"/>
<line x1="308.40" y1="560.80" x2="311.40" y2="560.80" stroke="#2e4a80" stroke-width="0.9"/>
<rect x="297.20" y="571.41" width="5.60" height="25.19" fill="#c6c5c8" stroke="#bebdc1" stroke-width="1.0"/>
<rect x="307.10" y="569.43" width="5.60" height="27.17" fill="#2e4a80" stroke="#1f3d78" stroke-width="1.0"/>
<rect x="318.00" y="591.61" width="5.60" height="4.99" fill="#c6c5c8" stroke="#bebdc1" stroke-width="1.0"/>
<rect x="327.20" y="587.65" width="5.60" height="8.95" fill="#2e4a80" stroke="#1f3d78" stroke-width="1.0"/>
<circle cx="258.70" cy="539.00" r="2.20" fill="#fff" stroke="#c2c2c4" stroke-width="1.05"/>
<circle cx="260.00" cy="545.40" r="2.20" fill="#fff" stroke="#c2c2c4" stroke-width="1.05"/>
<circle cx="257.70" cy="549.60" r="2.20" fill="#fff" stroke="#c2c2c4" stroke-width="1.05"/>
<circle cx="267.90" cy="532.30" r="2.20" fill="#fff" stroke="#2e4a80" stroke-width="1.05"/>
<circle cx="269.20" cy="545.80" r="2.20" fill="#fff" stroke="#2e4a80" stroke-width="1.05"/>
<circle cx="266.90" cy="550.60" r="2.20" fill="#fff" stroke="#2e4a80" stroke-width="1.05"/>
<circle cx="278.50" cy="540.40" r="2.20" fill="#fff" stroke="#c2c2c4" stroke-width="1.05"/>
<circle cx="280.80" cy="539.00" r="2.20" fill="#fff" stroke="#c2c2c4" stroke-width="1.05"/>
<circle cx="279.20" cy="582.70" r="2.20" fill="#fff" stroke="#c2c2c4" stroke-width="1.05"/>
<circle cx="289.00" cy="533.70" r="2.20" fill="#fff" stroke="#2e4a80" stroke-width="1.05"/>
<circle cx="289.00" cy="541.00" r="2.20" fill="#fff" stroke="#2e4a80" stroke-width="1.05"/>
<circle cx="289.00" cy="583.30" r="2.20" fill="#fff" stroke="#2e4a80" stroke-width="1.05"/>
<circle cx="301.00" cy="560.20" r="2.20" fill="#fff" stroke="#c2c2c4" stroke-width="1.05"/>
<circle cx="298.50" cy="565.00" r="2.20" fill="#fff" stroke="#c2c2c4" stroke-width="1.05"/>
<circle cx="300.00" cy="585.80" r="2.20" fill="#fff" stroke="#c2c2c4" stroke-width="1.05"/>
<circle cx="309.60" cy="554.80" r="2.20" fill="#fff" stroke="#2e4a80" stroke-width="1.05"/>
<circle cx="309.60" cy="568.80" r="2.20" fill="#fff" stroke="#2e4a80" stroke-width="1.05"/>
<circle cx="309.60" cy="582.70" r="2.20" fill="#fff" stroke="#2e4a80" stroke-width="1.05"/>
<circle cx="320.20" cy="584.20" r="2.20" fill="#fff" stroke="#c2c2c4" stroke-width="1.05"/>
<circle cx="322.10" cy="588.50" r="2.20" fill="#fff" stroke="#c2c2c4" stroke-width="1.05"/>
<circle cx="318.80" cy="589.00" r="2.20" fill="#fff" stroke="#c2c2c4" stroke-width="1.05"/>
<circle cx="330.40" cy="578.10" r="2.20" fill="#fff" stroke="#2e4a80" stroke-width="1.05"/>
<circle cx="332.10" cy="584.20" r="2.20" fill="#fff" stroke="#2e4a80" stroke-width="1.05"/>
<circle cx="328.80" cy="587.70" r="2.20" fill="#fff" stroke="#2e4a80" stroke-width="1.05"/>
<line x1="258.80" y1="525.40" x2="268.50" y2="525.40" stroke="#111" stroke-width="1.25"/>
<text x="263.70" y="521.00" font-size="6.8" text-anchor="middle" fill="#222" stroke="#222" stroke-width="0.15" >ns</text>
<line x1="279.30" y1="526.80" x2="288.90" y2="526.80" stroke="#111" stroke-width="1.25"/>
<text x="284.40" y="522.20" font-size="6.8" text-anchor="middle" fill="#222" stroke="#222" stroke-width="0.15" >ns</text>
<line x1="300.40" y1="548.10" x2="309.20" y2="548.10" stroke="#111" stroke-width="1.25"/>
<text x="304.80" y="543.70" font-size="6.8" text-anchor="middle" fill="#222" stroke="#222" stroke-width="0.15" >ns</text>
<line x1="320.80" y1="571.70" x2="330.40" y2="571.70" stroke="#111" stroke-width="1.25"/>
<text x="325.40" y="567.20" font-size="6.8" text-anchor="middle" fill="#222" stroke="#222" stroke-width="0.15" >ns</text>
<circle cx="342.50" cy="513.00" r="2.20" fill="#fff" stroke="#c2c2c4" stroke-width="0.9"/>
<circle cx="342.50" cy="523.40" r="2.20" fill="#fff" stroke="#2e4a80" stroke-width="1.0"/>
<text x="347.80" y="515.50" font-size="7" text-anchor="start" fill="#222" stroke="#222" stroke-width="0.15" >no costim.</text>
<text x="347.80" y="525.90" font-size="7.3" text-anchor="start" fill="#111" stroke="#111" stroke-width="0.15" >+ αCD28</text>
<text x="0" y="0" font-size="7.6" text-anchor="end" fill="#222" transform="translate(266.30,606.00) rotate(-45)">TR66-LV</text>
<text x="0" y="0" font-size="7.6" text-anchor="end" fill="#222" transform="translate(286.90,606.00) rotate(-45)">TR66.opt-LV</text>
<text x="0" y="0" font-size="7.6" text-anchor="end" fill="#222" transform="translate(307.00,606.00) rotate(-45)">HuM291-LV</text>
<text x="0" y="0" font-size="7.6" text-anchor="end" fill="#222" transform="translate(327.20,606.00) rotate(-45)">VSV-LV</text>
</svg>
</body></html>
